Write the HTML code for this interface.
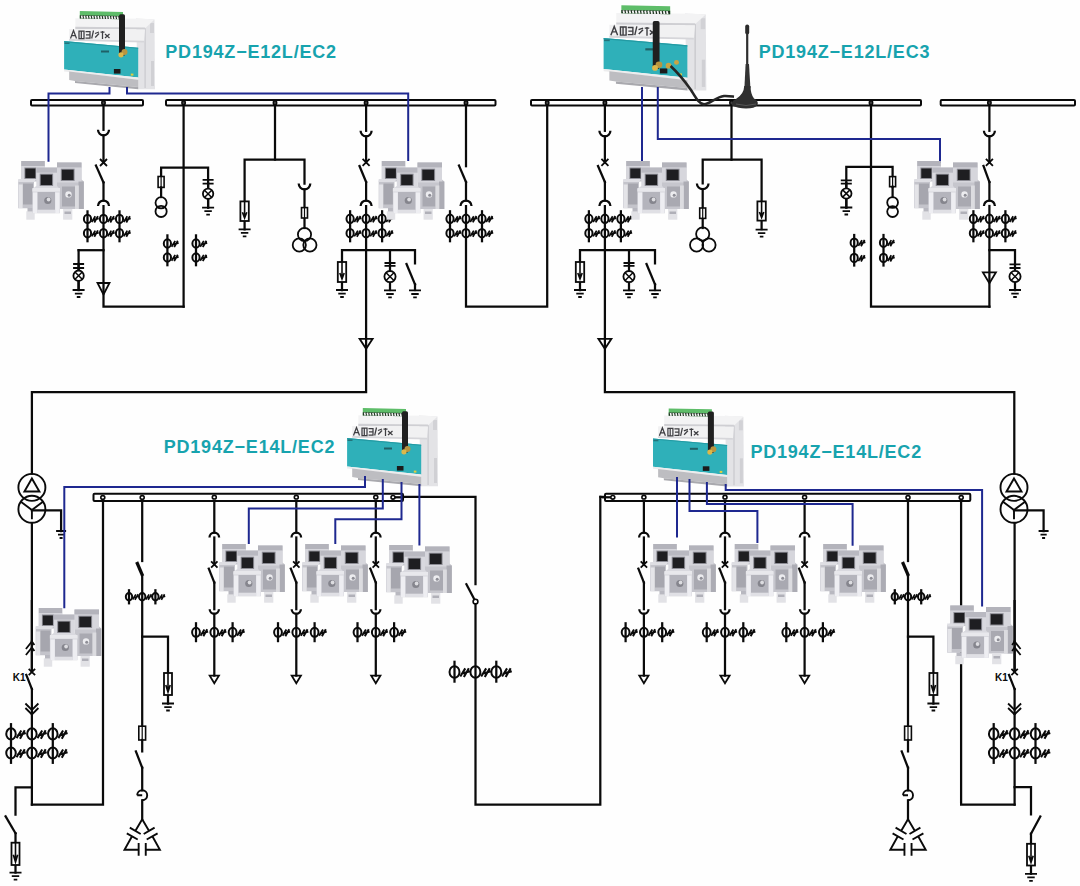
<!DOCTYPE html>
<html><head><meta charset="utf-8"><style>
html,body{margin:0;padding:0;background:#fff;width:1080px;height:886px;overflow:hidden}
svg{display:block}
</style></head><body>
<svg width="1080" height="886" viewBox="0 0 1080 886">
<rect width="1080" height="886" fill="#fefefe"/>
<rect x="31" y="100" width="112" height="5.5" rx="1" fill="#fff" stroke="#0a0a0a" stroke-width="2"/>
<rect x="166" y="100" width="329.5" height="5.5" rx="1" fill="#fff" stroke="#0a0a0a" stroke-width="2"/>
<rect x="531" y="100" width="390" height="5.5" rx="1" fill="#fff" stroke="#0a0a0a" stroke-width="2"/>
<rect x="940.7" y="100" width="134.29999999999995" height="5.5" rx="1" fill="#fff" stroke="#0a0a0a" stroke-width="2"/>
<polyline points="103.5,105.5 103.5,129.8" fill="none" stroke="#0a0a0a" stroke-width="2.25" stroke-linejoin="miter" stroke-linecap="square"/>
<path d="M98.0,129.8 A5.5,5.5 0 0 0 109.0,129.8" fill="none" stroke="#0a0a0a" stroke-width="2.25"/>
<polyline points="103.5,135.3 103.5,162.5" fill="none" stroke="#0a0a0a" stroke-width="2.25" stroke-linejoin="miter" stroke-linecap="square"/>
<path d="M100.0,159.0L107.0,166.0M100.0,166.0L107.0,159.0" stroke="#0a0a0a" stroke-width="1.8"/>
<polyline points="96.0,165.6 103.5,182.5" fill="none" stroke="#0a0a0a" stroke-width="2.25" stroke-linejoin="miter" stroke-linecap="square"/>
<polyline points="103.5,182.5 103.5,200.5" fill="none" stroke="#0a0a0a" stroke-width="2.25" stroke-linejoin="miter" stroke-linecap="square"/>
<path d="M98.0,206 A5.5,5.5 0 0 1 109.0,206" fill="none" stroke="#0a0a0a" stroke-width="2.25"/>
<polyline points="103.5,206.0 103.5,306.7 183.6,306.7" fill="none" stroke="#0a0a0a" stroke-width="2.25" stroke-linejoin="miter" stroke-linecap="square"/>
<ellipse cx="87.5" cy="218.9" rx="3.60" ry="4.20" fill="none" stroke="#0a0a0a" stroke-width="2.0"/>
<path d="M91.70,222.10L95.30,216.30M94.30,222.50L97.90,216.10M92.10,220.30L98.70,218.30" stroke="#0a0a0a" stroke-width="1.80"/>
<ellipse cx="87.5" cy="233.2" rx="3.60" ry="4.20" fill="none" stroke="#0a0a0a" stroke-width="2.0"/>
<path d="M91.70,236.40L95.30,230.60M94.30,236.80L97.90,230.40M92.10,234.60L98.70,232.60" stroke="#0a0a0a" stroke-width="1.80"/>
<polyline points="87.5,211.4 87.5,241.2" fill="none" stroke="#0a0a0a" stroke-width="2.25" stroke-linejoin="miter" stroke-linecap="square"/>
<ellipse cx="103.5" cy="218.9" rx="3.60" ry="4.20" fill="none" stroke="#0a0a0a" stroke-width="2.0"/>
<path d="M107.70,222.10L111.30,216.30M110.30,222.50L113.90,216.10M108.10,220.30L114.70,218.30" stroke="#0a0a0a" stroke-width="1.80"/>
<ellipse cx="103.5" cy="233.2" rx="3.60" ry="4.20" fill="none" stroke="#0a0a0a" stroke-width="2.0"/>
<path d="M107.70,236.40L111.30,230.60M110.30,236.80L113.90,230.40M108.10,234.60L114.70,232.60" stroke="#0a0a0a" stroke-width="1.80"/>
<ellipse cx="119.5" cy="218.9" rx="3.60" ry="4.20" fill="none" stroke="#0a0a0a" stroke-width="2.0"/>
<path d="M123.70,222.10L127.30,216.30M126.30,222.50L129.90,216.10M124.10,220.30L130.70,218.30" stroke="#0a0a0a" stroke-width="1.80"/>
<ellipse cx="119.5" cy="233.2" rx="3.60" ry="4.20" fill="none" stroke="#0a0a0a" stroke-width="2.0"/>
<path d="M123.70,236.40L127.30,230.60M126.30,236.80L129.90,230.40M124.10,234.60L130.70,232.60" stroke="#0a0a0a" stroke-width="1.80"/>
<polyline points="119.5,211.4 119.5,241.2" fill="none" stroke="#0a0a0a" stroke-width="2.25" stroke-linejoin="miter" stroke-linecap="square"/>
<polyline points="78.6,250.2 103.5,250.2" fill="none" stroke="#0a0a0a" stroke-width="2.25" stroke-linejoin="miter" stroke-linecap="square"/>
<polyline points="78.6,250.2 78.6,290.0" fill="none" stroke="#0a0a0a" stroke-width="2.25" stroke-linejoin="miter" stroke-linecap="square"/>
<polyline points="78.6,264.0 78.6,290.0" fill="none" stroke="#0a0a0a" stroke-width="2.25" stroke-linejoin="miter" stroke-linecap="square"/>
<path d="M73.1,264H84.1M73.1,268H84.1" stroke="#0a0a0a" stroke-width="1.8"/>
<circle cx="78.6" cy="275.7" r="5.2" fill="#fff" stroke="#0a0a0a" stroke-width="1.8"/>
<path d="M74.96,272.06L82.24,279.34M74.96,279.34L82.24,272.06" stroke="#0a0a0a" stroke-width="1.5"/>
<path d="M72.6,290H84.6M74.88,293.6H82.32M76.8,297H80.39999999999999" stroke="#0a0a0a" stroke-width="1.8"/>
<path d="M97.5,283H109.5L103.5,294.5Z" fill="none" stroke="#0a0a0a" stroke-width="1.8"/>
<ellipse cx="103.5" cy="102.8" rx="1.7" ry="2.1" fill="#444" stroke="#0a0a0a" stroke-width="1.5"/>
<polyline points="183.6,105.5 183.6,306.7" fill="none" stroke="#0a0a0a" stroke-width="2.25" stroke-linejoin="miter" stroke-linecap="square"/>
<ellipse cx="183.6" cy="102.8" rx="1.7" ry="2.1" fill="#444" stroke="#0a0a0a" stroke-width="1.5"/>
<polyline points="161.1,187.0 161.1,167.7 208.1,167.7 208.1,207.6" fill="none" stroke="#0a0a0a" stroke-width="2.25" stroke-linejoin="miter" stroke-linecap="square"/>
<rect x="158.1" y="176.5" width="6" height="10.900000000000006" fill="#fff" stroke="#0a0a0a" stroke-width="1.6"/>
<line x1="161.1" y1="176.5" x2="161.1" y2="187.4" stroke="#0a0a0a" stroke-width="1.2"/>
<polyline points="161.1,187.4 161.1,197.0" fill="none" stroke="#0a0a0a" stroke-width="2.25" stroke-linejoin="miter" stroke-linecap="square"/>
<circle cx="161.1" cy="202.8" r="5.6" fill="none" stroke="#0a0a0a" stroke-width="1.8"/>
<circle cx="161.1" cy="211.4" r="5.6" fill="none" stroke="#0a0a0a" stroke-width="1.8"/>
<polyline points="208.1,183.0 208.1,207.6" fill="none" stroke="#0a0a0a" stroke-width="2.25" stroke-linejoin="miter" stroke-linecap="square"/>
<path d="M202.6,179.8H213.6M202.6,183.6H213.6" stroke="#0a0a0a" stroke-width="1.8"/>
<circle cx="208.1" cy="193.8" r="5.2" fill="#fff" stroke="#0a0a0a" stroke-width="1.8"/>
<path d="M204.46,190.16000000000003L211.73999999999998,197.44M204.46,197.44L211.73999999999998,190.16000000000003" stroke="#0a0a0a" stroke-width="1.5"/>
<path d="M202.1,207.6H214.1M204.38,211.2H211.82M206.29999999999998,214.6H209.9" stroke="#0a0a0a" stroke-width="1.8"/>
<ellipse cx="167.4" cy="243.5" rx="3.60" ry="4.20" fill="none" stroke="#0a0a0a" stroke-width="2.0"/>
<path d="M171.60,246.70L175.20,240.90M174.20,247.10L177.80,240.70M172.00,244.90L178.60,242.90" stroke="#0a0a0a" stroke-width="1.80"/>
<ellipse cx="167.4" cy="257.5" rx="3.60" ry="4.20" fill="none" stroke="#0a0a0a" stroke-width="2.0"/>
<path d="M171.60,260.70L175.20,254.90M174.20,261.10L177.80,254.70M172.00,258.90L178.60,256.90" stroke="#0a0a0a" stroke-width="1.80"/>
<polyline points="167.4,235.4 167.4,265.2" fill="none" stroke="#0a0a0a" stroke-width="2.25" stroke-linejoin="miter" stroke-linecap="square"/>
<ellipse cx="196" cy="243.5" rx="3.60" ry="4.20" fill="none" stroke="#0a0a0a" stroke-width="2.0"/>
<path d="M200.20,246.70L203.80,240.90M202.80,247.10L206.40,240.70M200.60,244.90L207.20,242.90" stroke="#0a0a0a" stroke-width="1.80"/>
<ellipse cx="196" cy="257.5" rx="3.60" ry="4.20" fill="none" stroke="#0a0a0a" stroke-width="2.0"/>
<path d="M200.20,260.70L203.80,254.90M202.80,261.10L206.40,254.70M200.60,258.90L207.20,256.90" stroke="#0a0a0a" stroke-width="1.80"/>
<polyline points="196.0,235.4 196.0,265.2" fill="none" stroke="#0a0a0a" stroke-width="2.25" stroke-linejoin="miter" stroke-linecap="square"/>
<polyline points="275.0,105.5 275.0,159.6" fill="none" stroke="#0a0a0a" stroke-width="2.25" stroke-linejoin="miter" stroke-linecap="square"/>
<ellipse cx="275" cy="102.8" rx="1.7" ry="2.1" fill="#444" stroke="#0a0a0a" stroke-width="1.5"/>
<polyline points="244.6,229.3 244.6,159.6 304.5,159.6 304.5,183.6" fill="none" stroke="#0a0a0a" stroke-width="2.25" stroke-linejoin="miter" stroke-linecap="square"/>
<rect x="240.4" y="201.4" width="8.4" height="19.599999999999994" fill="#fff" stroke="#0a0a0a" stroke-width="1.8"/>
<path d="M244.6,201.4V218M242.4,212.2L244.6,218L246.79999999999998,212.2" fill="none" stroke="#0a0a0a" stroke-width="1.6"/>
<path d="M238.6,229.3H250.6M240.88,232.9H248.32M242.79999999999998,236.3H246.4" stroke="#0a0a0a" stroke-width="1.8"/>
<path d="M298.7,183.6 A5.8,5.8 0 0 0 310.3,183.6" fill="none" stroke="#0a0a0a" stroke-width="2.25"/>
<polyline points="304.5,189.4 304.5,228.0" fill="none" stroke="#0a0a0a" stroke-width="2.25" stroke-linejoin="miter" stroke-linecap="square"/>
<rect x="301.5" y="207.6" width="6" height="10.400000000000006" fill="#fff" stroke="#0a0a0a" stroke-width="1.6"/>
<line x1="304.5" y1="207.6" x2="304.5" y2="218" stroke="#0a0a0a" stroke-width="1.2"/>
<circle cx="304.5" cy="234.5" r="6.6" fill="none" stroke="#0a0a0a" stroke-width="1.8"/>
<circle cx="299.3" cy="245" r="6.6" fill="none" stroke="#0a0a0a" stroke-width="1.8"/>
<circle cx="309.9" cy="245" r="6.6" fill="none" stroke="#0a0a0a" stroke-width="1.8"/>
<polyline points="366.1,105.5 366.1,130.8" fill="none" stroke="#0a0a0a" stroke-width="2.25" stroke-linejoin="miter" stroke-linecap="square"/>
<path d="M360.6,130.8 A5.5,5.5 0 0 0 371.6,130.8" fill="none" stroke="#0a0a0a" stroke-width="2.25"/>
<ellipse cx="366.1" cy="102.8" rx="1.7" ry="2.1" fill="#444" stroke="#0a0a0a" stroke-width="1.5"/>
<polyline points="366.1,136.3 366.1,162.4" fill="none" stroke="#0a0a0a" stroke-width="2.25" stroke-linejoin="miter" stroke-linecap="square"/>
<path d="M362.6,158.9L369.6,165.9M362.6,165.9L369.6,158.9" stroke="#0a0a0a" stroke-width="1.8"/>
<polyline points="359.5,166.0 366.1,182.0" fill="none" stroke="#0a0a0a" stroke-width="2.25" stroke-linejoin="miter" stroke-linecap="square"/>
<polyline points="366.1,182.0 366.1,200.5" fill="none" stroke="#0a0a0a" stroke-width="2.25" stroke-linejoin="miter" stroke-linecap="square"/>
<path d="M360.6,206 A5.5,5.5 0 0 1 371.6,206" fill="none" stroke="#0a0a0a" stroke-width="2.25"/>
<polyline points="366.1,206.0 366.1,392.0 31.9,392.0 31.9,473.5" fill="none" stroke="#0a0a0a" stroke-width="2.25" stroke-linejoin="miter" stroke-linecap="square"/>
<ellipse cx="350.1" cy="218.8" rx="3.60" ry="4.20" fill="none" stroke="#0a0a0a" stroke-width="2.0"/>
<path d="M354.30,222.00L357.90,216.20M356.90,222.40L360.50,216.00M354.70,220.20L361.30,218.20" stroke="#0a0a0a" stroke-width="1.80"/>
<ellipse cx="350.1" cy="233.2" rx="3.60" ry="4.20" fill="none" stroke="#0a0a0a" stroke-width="2.0"/>
<path d="M354.30,236.40L357.90,230.60M356.90,236.80L360.50,230.40M354.70,234.60L361.30,232.60" stroke="#0a0a0a" stroke-width="1.80"/>
<polyline points="350.1,211.3 350.1,241.2" fill="none" stroke="#0a0a0a" stroke-width="2.25" stroke-linejoin="miter" stroke-linecap="square"/>
<ellipse cx="366.1" cy="218.8" rx="3.60" ry="4.20" fill="none" stroke="#0a0a0a" stroke-width="2.0"/>
<path d="M370.30,222.00L373.90,216.20M372.90,222.40L376.50,216.00M370.70,220.20L377.30,218.20" stroke="#0a0a0a" stroke-width="1.80"/>
<ellipse cx="366.1" cy="233.2" rx="3.60" ry="4.20" fill="none" stroke="#0a0a0a" stroke-width="2.0"/>
<path d="M370.30,236.40L373.90,230.60M372.90,236.80L376.50,230.40M370.70,234.60L377.30,232.60" stroke="#0a0a0a" stroke-width="1.80"/>
<ellipse cx="382.1" cy="218.8" rx="3.60" ry="4.20" fill="none" stroke="#0a0a0a" stroke-width="2.0"/>
<path d="M386.30,222.00L389.90,216.20M388.90,222.40L392.50,216.00M386.70,220.20L393.30,218.20" stroke="#0a0a0a" stroke-width="1.80"/>
<ellipse cx="382.1" cy="233.2" rx="3.60" ry="4.20" fill="none" stroke="#0a0a0a" stroke-width="2.0"/>
<path d="M386.30,236.40L389.90,230.60M388.90,236.80L392.50,230.40M386.70,234.60L393.30,232.60" stroke="#0a0a0a" stroke-width="1.80"/>
<polyline points="382.1,211.3 382.1,241.2" fill="none" stroke="#0a0a0a" stroke-width="2.25" stroke-linejoin="miter" stroke-linecap="square"/>
<polyline points="342.0,290.0 342.0,250.2 415.0,250.2 415.0,263.4" fill="none" stroke="#0a0a0a" stroke-width="2.25" stroke-linejoin="miter" stroke-linecap="square"/>
<rect x="337.8" y="262" width="8.4" height="20" fill="#fff" stroke="#0a0a0a" stroke-width="1.8"/>
<path d="M342,262V279M339.8,273.0L342,279L344.2,273.0" fill="none" stroke="#0a0a0a" stroke-width="1.6"/>
<path d="M336,290H348M338.28,293.6H345.72M340.2,297H343.8" stroke="#0a0a0a" stroke-width="1.8"/>
<polyline points="390.0,265.0 390.0,290.0" fill="none" stroke="#0a0a0a" stroke-width="2.25" stroke-linejoin="miter" stroke-linecap="square"/>
<path d="M384.5,263H395.5M384.5,265.8H395.5" stroke="#0a0a0a" stroke-width="1.8"/>
<circle cx="390" cy="276.6" r="5.6" fill="#fff" stroke="#0a0a0a" stroke-width="1.8"/>
<path d="M386.08,272.68L393.92,280.52000000000004M386.08,280.52000000000004L393.92,272.68" stroke="#0a0a0a" stroke-width="1.5"/>
<path d="M384,290.4H396M386.28,294.0H393.72M388.2,297.4H391.8" stroke="#0a0a0a" stroke-width="1.8"/>
<polyline points="390.0,250.2 390.0,262.0" fill="none" stroke="#0a0a0a" stroke-width="2.25" stroke-linejoin="miter" stroke-linecap="square"/>
<polyline points="406.5,264.0 415.0,284.3" fill="none" stroke="#0a0a0a" stroke-width="2.25" stroke-linejoin="miter" stroke-linecap="square"/>
<polyline points="415.0,284.3 415.0,290.0" fill="none" stroke="#0a0a0a" stroke-width="2.25" stroke-linejoin="miter" stroke-linecap="square"/>
<path d="M409,290.4H421M411.28,294.0H418.72M413.2,297.4H416.8" stroke="#0a0a0a" stroke-width="1.8"/>
<path d="M359.6,338.8H372.6L366.1,348.8Z" fill="none" stroke="#0a0a0a" stroke-width="1.8"/>
<polyline points="466.0,105.5 466.0,166.2" fill="none" stroke="#0a0a0a" stroke-width="2.25" stroke-linejoin="miter" stroke-linecap="square"/>
<ellipse cx="466" cy="102.8" rx="1.7" ry="2.1" fill="#444" stroke="#0a0a0a" stroke-width="1.5"/>
<polyline points="459.0,165.6 466.0,182.0" fill="none" stroke="#0a0a0a" stroke-width="2.25" stroke-linejoin="miter" stroke-linecap="square"/>
<polyline points="466.0,182.0 466.0,200.5" fill="none" stroke="#0a0a0a" stroke-width="2.25" stroke-linejoin="miter" stroke-linecap="square"/>
<path d="M460.5,206 A5.5,5.5 0 0 1 471.5,206" fill="none" stroke="#0a0a0a" stroke-width="2.25"/>
<polyline points="466.0,206.0 466.0,306.7 547.2,306.7 547.2,105.5" fill="none" stroke="#0a0a0a" stroke-width="2.25" stroke-linejoin="miter" stroke-linecap="square"/>
<ellipse cx="450" cy="218.8" rx="3.60" ry="4.20" fill="none" stroke="#0a0a0a" stroke-width="2.0"/>
<path d="M454.20,222.00L457.80,216.20M456.80,222.40L460.40,216.00M454.60,220.20L461.20,218.20" stroke="#0a0a0a" stroke-width="1.80"/>
<ellipse cx="450" cy="233.2" rx="3.60" ry="4.20" fill="none" stroke="#0a0a0a" stroke-width="2.0"/>
<path d="M454.20,236.40L457.80,230.60M456.80,236.80L460.40,230.40M454.60,234.60L461.20,232.60" stroke="#0a0a0a" stroke-width="1.80"/>
<polyline points="450.0,211.3 450.0,241.2" fill="none" stroke="#0a0a0a" stroke-width="2.25" stroke-linejoin="miter" stroke-linecap="square"/>
<ellipse cx="466" cy="218.8" rx="3.60" ry="4.20" fill="none" stroke="#0a0a0a" stroke-width="2.0"/>
<path d="M470.20,222.00L473.80,216.20M472.80,222.40L476.40,216.00M470.60,220.20L477.20,218.20" stroke="#0a0a0a" stroke-width="1.80"/>
<ellipse cx="466" cy="233.2" rx="3.60" ry="4.20" fill="none" stroke="#0a0a0a" stroke-width="2.0"/>
<path d="M470.20,236.40L473.80,230.60M472.80,236.80L476.40,230.40M470.60,234.60L477.20,232.60" stroke="#0a0a0a" stroke-width="1.80"/>
<ellipse cx="482" cy="218.8" rx="3.60" ry="4.20" fill="none" stroke="#0a0a0a" stroke-width="2.0"/>
<path d="M486.20,222.00L489.80,216.20M488.80,222.40L492.40,216.00M486.60,220.20L493.20,218.20" stroke="#0a0a0a" stroke-width="1.80"/>
<ellipse cx="482" cy="233.2" rx="3.60" ry="4.20" fill="none" stroke="#0a0a0a" stroke-width="2.0"/>
<path d="M486.20,236.40L489.80,230.60M488.80,236.80L492.40,230.40M486.60,234.60L493.20,232.60" stroke="#0a0a0a" stroke-width="1.80"/>
<polyline points="482.0,211.3 482.0,241.2" fill="none" stroke="#0a0a0a" stroke-width="2.25" stroke-linejoin="miter" stroke-linecap="square"/>
<ellipse cx="547.2" cy="102.8" rx="1.7" ry="2.1" fill="#444" stroke="#0a0a0a" stroke-width="1.5"/>
<polyline points="604.9,105.5 604.9,130.8" fill="none" stroke="#0a0a0a" stroke-width="2.25" stroke-linejoin="miter" stroke-linecap="square"/>
<path d="M599.4,130.8 A5.5,5.5 0 0 0 610.4,130.8" fill="none" stroke="#0a0a0a" stroke-width="2.25"/>
<ellipse cx="604.9" cy="102.8" rx="1.7" ry="2.1" fill="#444" stroke="#0a0a0a" stroke-width="1.5"/>
<polyline points="604.9,136.3 604.9,162.4" fill="none" stroke="#0a0a0a" stroke-width="2.25" stroke-linejoin="miter" stroke-linecap="square"/>
<path d="M601.4,158.9L608.4,165.9M601.4,165.9L608.4,158.9" stroke="#0a0a0a" stroke-width="1.8"/>
<polyline points="598.0,166.0 604.9,182.0" fill="none" stroke="#0a0a0a" stroke-width="2.25" stroke-linejoin="miter" stroke-linecap="square"/>
<polyline points="604.9,182.0 604.9,200.5" fill="none" stroke="#0a0a0a" stroke-width="2.25" stroke-linejoin="miter" stroke-linecap="square"/>
<path d="M599.4,206 A5.5,5.5 0 0 1 610.4,206" fill="none" stroke="#0a0a0a" stroke-width="2.25"/>
<polyline points="604.9,206.0 604.9,392.0 1014.3,392.0 1014.3,473.5" fill="none" stroke="#0a0a0a" stroke-width="2.25" stroke-linejoin="miter" stroke-linecap="square"/>
<ellipse cx="588.9" cy="218.8" rx="3.60" ry="4.20" fill="none" stroke="#0a0a0a" stroke-width="2.0"/>
<path d="M593.10,222.00L596.70,216.20M595.70,222.40L599.30,216.00M593.50,220.20L600.10,218.20" stroke="#0a0a0a" stroke-width="1.80"/>
<ellipse cx="588.9" cy="233.2" rx="3.60" ry="4.20" fill="none" stroke="#0a0a0a" stroke-width="2.0"/>
<path d="M593.10,236.40L596.70,230.60M595.70,236.80L599.30,230.40M593.50,234.60L600.10,232.60" stroke="#0a0a0a" stroke-width="1.80"/>
<polyline points="588.9,211.3 588.9,241.2" fill="none" stroke="#0a0a0a" stroke-width="2.25" stroke-linejoin="miter" stroke-linecap="square"/>
<ellipse cx="604.9" cy="218.8" rx="3.60" ry="4.20" fill="none" stroke="#0a0a0a" stroke-width="2.0"/>
<path d="M609.10,222.00L612.70,216.20M611.70,222.40L615.30,216.00M609.50,220.20L616.10,218.20" stroke="#0a0a0a" stroke-width="1.80"/>
<ellipse cx="604.9" cy="233.2" rx="3.60" ry="4.20" fill="none" stroke="#0a0a0a" stroke-width="2.0"/>
<path d="M609.10,236.40L612.70,230.60M611.70,236.80L615.30,230.40M609.50,234.60L616.10,232.60" stroke="#0a0a0a" stroke-width="1.80"/>
<ellipse cx="620.9" cy="218.8" rx="3.60" ry="4.20" fill="none" stroke="#0a0a0a" stroke-width="2.0"/>
<path d="M625.10,222.00L628.70,216.20M627.70,222.40L631.30,216.00M625.50,220.20L632.10,218.20" stroke="#0a0a0a" stroke-width="1.80"/>
<ellipse cx="620.9" cy="233.2" rx="3.60" ry="4.20" fill="none" stroke="#0a0a0a" stroke-width="2.0"/>
<path d="M625.10,236.40L628.70,230.60M627.70,236.80L631.30,230.40M625.50,234.60L632.10,232.60" stroke="#0a0a0a" stroke-width="1.80"/>
<polyline points="620.9,211.3 620.9,241.2" fill="none" stroke="#0a0a0a" stroke-width="2.25" stroke-linejoin="miter" stroke-linecap="square"/>
<polyline points="580.0,290.0 580.0,250.2 655.0,250.2 655.0,263.4" fill="none" stroke="#0a0a0a" stroke-width="2.25" stroke-linejoin="miter" stroke-linecap="square"/>
<rect x="575.8" y="262" width="8.4" height="20" fill="#fff" stroke="#0a0a0a" stroke-width="1.8"/>
<path d="M580,262V279M577.8,273.0L580,279L582.2,273.0" fill="none" stroke="#0a0a0a" stroke-width="1.6"/>
<path d="M574,290H586M576.28,293.6H583.72M578.2,297H581.8" stroke="#0a0a0a" stroke-width="1.8"/>
<polyline points="629.0,265.0 629.0,290.0" fill="none" stroke="#0a0a0a" stroke-width="2.25" stroke-linejoin="miter" stroke-linecap="square"/>
<path d="M623.5,263H634.5M623.5,265.8H634.5" stroke="#0a0a0a" stroke-width="1.8"/>
<circle cx="629" cy="276.6" r="5.6" fill="#fff" stroke="#0a0a0a" stroke-width="1.8"/>
<path d="M625.08,272.68L632.92,280.52000000000004M625.08,280.52000000000004L632.92,272.68" stroke="#0a0a0a" stroke-width="1.5"/>
<path d="M623,290.4H635M625.28,294.0H632.72M627.2,297.4H630.8" stroke="#0a0a0a" stroke-width="1.8"/>
<polyline points="629.0,250.2 629.0,262.0" fill="none" stroke="#0a0a0a" stroke-width="2.25" stroke-linejoin="miter" stroke-linecap="square"/>
<polyline points="646.5,264.0 655.0,284.3" fill="none" stroke="#0a0a0a" stroke-width="2.25" stroke-linejoin="miter" stroke-linecap="square"/>
<polyline points="655.0,284.3 655.0,290.0" fill="none" stroke="#0a0a0a" stroke-width="2.25" stroke-linejoin="miter" stroke-linecap="square"/>
<path d="M649,290.4H661M651.28,294.0H658.72M653.2,297.4H656.8" stroke="#0a0a0a" stroke-width="1.8"/>
<path d="M598.4,338.8H611.4L604.9,348.8Z" fill="none" stroke="#0a0a0a" stroke-width="1.8"/>
<polyline points="731.5,105.5 731.5,159.7" fill="none" stroke="#0a0a0a" stroke-width="2.25" stroke-linejoin="miter" stroke-linecap="square"/>
<ellipse cx="731.5" cy="102.8" rx="1.7" ry="2.1" fill="#444" stroke="#0a0a0a" stroke-width="1.5"/>
<polyline points="761.6,229.0 761.6,159.7 702.7,159.7 702.7,183.4" fill="none" stroke="#0a0a0a" stroke-width="2.25" stroke-linejoin="miter" stroke-linecap="square"/>
<rect x="757.4" y="201.4" width="8.4" height="19.19999999999999" fill="#fff" stroke="#0a0a0a" stroke-width="1.8"/>
<path d="M761.6,201.4V217.6M759.4,212.0L761.6,217.6L763.8000000000001,212.0" fill="none" stroke="#0a0a0a" stroke-width="1.6"/>
<path d="M755.6,229.6H767.6M757.88,233.2H765.32M759.8000000000001,236.6H763.4" stroke="#0a0a0a" stroke-width="1.8"/>
<path d="M696.9000000000001,183.4 A5.8,5.8 0 0 0 708.5,183.4" fill="none" stroke="#0a0a0a" stroke-width="2.25"/>
<polyline points="702.7,189.2 702.7,228.0" fill="none" stroke="#0a0a0a" stroke-width="2.25" stroke-linejoin="miter" stroke-linecap="square"/>
<rect x="699.7" y="208" width="6" height="10.400000000000006" fill="#fff" stroke="#0a0a0a" stroke-width="1.6"/>
<line x1="702.7" y1="208" x2="702.7" y2="218.4" stroke="#0a0a0a" stroke-width="1.2"/>
<circle cx="702.7" cy="234" r="6.6" fill="none" stroke="#0a0a0a" stroke-width="1.8"/>
<circle cx="696.6" cy="245" r="6.6" fill="none" stroke="#0a0a0a" stroke-width="1.8"/>
<circle cx="709" cy="245" r="6.6" fill="none" stroke="#0a0a0a" stroke-width="1.8"/>
<polyline points="871.0,105.5 871.0,306.7 989.4,306.7" fill="none" stroke="#0a0a0a" stroke-width="2.25" stroke-linejoin="miter" stroke-linecap="square"/>
<ellipse cx="871" cy="102.8" rx="1.7" ry="2.1" fill="#444" stroke="#0a0a0a" stroke-width="1.5"/>
<polyline points="846.3,207.5 846.3,166.9 892.6,166.9 892.6,187.0" fill="none" stroke="#0a0a0a" stroke-width="2.25" stroke-linejoin="miter" stroke-linecap="square"/>
<polyline points="846.3,183.0 846.3,207.5" fill="none" stroke="#0a0a0a" stroke-width="2.25" stroke-linejoin="miter" stroke-linecap="square"/>
<path d="M840.8,180.4H851.8M840.8,183.6H851.8" stroke="#0a0a0a" stroke-width="1.8"/>
<circle cx="846.3" cy="193.5" r="5.2" fill="#fff" stroke="#0a0a0a" stroke-width="1.8"/>
<path d="M842.66,189.86L849.9399999999999,197.14M842.66,197.14L849.9399999999999,189.86" stroke="#0a0a0a" stroke-width="1.5"/>
<path d="M840.3,207.5H852.3M842.5799999999999,211.1H850.02M844.5,214.5H848.0999999999999" stroke="#0a0a0a" stroke-width="1.8"/>
<rect x="889.6" y="176.6" width="6" height="10.099999999999994" fill="#fff" stroke="#0a0a0a" stroke-width="1.6"/>
<line x1="892.6" y1="176.6" x2="892.6" y2="186.7" stroke="#0a0a0a" stroke-width="1.2"/>
<polyline points="892.6,186.7 892.6,197.0" fill="none" stroke="#0a0a0a" stroke-width="2.25" stroke-linejoin="miter" stroke-linecap="square"/>
<circle cx="892.6" cy="202.5" r="5.4" fill="none" stroke="#0a0a0a" stroke-width="1.8"/>
<circle cx="892.6" cy="211.6" r="5.4" fill="none" stroke="#0a0a0a" stroke-width="1.8"/>
<ellipse cx="854.2" cy="242.7" rx="3.60" ry="4.20" fill="none" stroke="#0a0a0a" stroke-width="2.0"/>
<path d="M858.40,245.90L862.00,240.10M861.00,246.30L864.60,239.90M858.80,244.10L865.40,242.10" stroke="#0a0a0a" stroke-width="1.80"/>
<ellipse cx="854.2" cy="257.9" rx="3.60" ry="4.20" fill="none" stroke="#0a0a0a" stroke-width="2.0"/>
<path d="M858.40,261.10L862.00,255.30M861.00,261.50L864.60,255.10M858.80,259.30L865.40,257.30" stroke="#0a0a0a" stroke-width="1.80"/>
<polyline points="854.2,235.0 854.2,265.5" fill="none" stroke="#0a0a0a" stroke-width="2.25" stroke-linejoin="miter" stroke-linecap="square"/>
<ellipse cx="883.5" cy="242.7" rx="3.60" ry="4.20" fill="none" stroke="#0a0a0a" stroke-width="2.0"/>
<path d="M887.70,245.90L891.30,240.10M890.30,246.30L893.90,239.90M888.10,244.10L894.70,242.10" stroke="#0a0a0a" stroke-width="1.80"/>
<ellipse cx="883.5" cy="257.9" rx="3.60" ry="4.20" fill="none" stroke="#0a0a0a" stroke-width="2.0"/>
<path d="M887.70,261.10L891.30,255.30M890.30,261.50L893.90,255.10M888.10,259.30L894.70,257.30" stroke="#0a0a0a" stroke-width="1.80"/>
<polyline points="883.5,235.0 883.5,265.5" fill="none" stroke="#0a0a0a" stroke-width="2.25" stroke-linejoin="miter" stroke-linecap="square"/>
<polyline points="989.4,105.5 989.4,130.8" fill="none" stroke="#0a0a0a" stroke-width="2.25" stroke-linejoin="miter" stroke-linecap="square"/>
<path d="M983.9,130.8 A5.5,5.5 0 0 0 994.9,130.8" fill="none" stroke="#0a0a0a" stroke-width="2.25"/>
<ellipse cx="989.4" cy="102.8" rx="1.7" ry="2.1" fill="#444" stroke="#0a0a0a" stroke-width="1.5"/>
<polyline points="989.4,136.3 989.4,162.4" fill="none" stroke="#0a0a0a" stroke-width="2.25" stroke-linejoin="miter" stroke-linecap="square"/>
<path d="M985.9,158.9L992.9,165.9M985.9,165.9L992.9,158.9" stroke="#0a0a0a" stroke-width="1.8"/>
<polyline points="983.5,166.0 989.4,182.0" fill="none" stroke="#0a0a0a" stroke-width="2.25" stroke-linejoin="miter" stroke-linecap="square"/>
<polyline points="989.4,182.0 989.4,200.5" fill="none" stroke="#0a0a0a" stroke-width="2.25" stroke-linejoin="miter" stroke-linecap="square"/>
<path d="M983.9,206 A5.5,5.5 0 0 1 994.9,206" fill="none" stroke="#0a0a0a" stroke-width="2.25"/>
<polyline points="989.4,206.0 989.4,306.7" fill="none" stroke="#0a0a0a" stroke-width="2.25" stroke-linejoin="miter" stroke-linecap="square"/>
<ellipse cx="973.4" cy="218.8" rx="3.60" ry="4.20" fill="none" stroke="#0a0a0a" stroke-width="2.0"/>
<path d="M977.60,222.00L981.20,216.20M980.20,222.40L983.80,216.00M978.00,220.20L984.60,218.20" stroke="#0a0a0a" stroke-width="1.80"/>
<ellipse cx="973.4" cy="233.2" rx="3.60" ry="4.20" fill="none" stroke="#0a0a0a" stroke-width="2.0"/>
<path d="M977.60,236.40L981.20,230.60M980.20,236.80L983.80,230.40M978.00,234.60L984.60,232.60" stroke="#0a0a0a" stroke-width="1.80"/>
<polyline points="973.4,211.3 973.4,241.2" fill="none" stroke="#0a0a0a" stroke-width="2.25" stroke-linejoin="miter" stroke-linecap="square"/>
<ellipse cx="989.4" cy="218.8" rx="3.60" ry="4.20" fill="none" stroke="#0a0a0a" stroke-width="2.0"/>
<path d="M993.60,222.00L997.20,216.20M996.20,222.40L999.80,216.00M994.00,220.20L1000.60,218.20" stroke="#0a0a0a" stroke-width="1.80"/>
<ellipse cx="989.4" cy="233.2" rx="3.60" ry="4.20" fill="none" stroke="#0a0a0a" stroke-width="2.0"/>
<path d="M993.60,236.40L997.20,230.60M996.20,236.80L999.80,230.40M994.00,234.60L1000.60,232.60" stroke="#0a0a0a" stroke-width="1.80"/>
<ellipse cx="1005.4" cy="218.8" rx="3.60" ry="4.20" fill="none" stroke="#0a0a0a" stroke-width="2.0"/>
<path d="M1009.60,222.00L1013.20,216.20M1012.20,222.40L1015.80,216.00M1010.00,220.20L1016.60,218.20" stroke="#0a0a0a" stroke-width="1.80"/>
<ellipse cx="1005.4" cy="233.2" rx="3.60" ry="4.20" fill="none" stroke="#0a0a0a" stroke-width="2.0"/>
<path d="M1009.60,236.40L1013.20,230.60M1012.20,236.80L1015.80,230.40M1010.00,234.60L1016.60,232.60" stroke="#0a0a0a" stroke-width="1.80"/>
<polyline points="1005.4,211.3 1005.4,241.2" fill="none" stroke="#0a0a0a" stroke-width="2.25" stroke-linejoin="miter" stroke-linecap="square"/>
<polyline points="989.4,250.2 1015.0,250.2 1015.0,290.0" fill="none" stroke="#0a0a0a" stroke-width="2.25" stroke-linejoin="miter" stroke-linecap="square"/>
<path d="M1009.5,264.3H1020.5M1009.5,268H1020.5" stroke="#0a0a0a" stroke-width="1.8"/>
<circle cx="1015" cy="276.5" r="5.6" fill="#fff" stroke="#0a0a0a" stroke-width="1.8"/>
<path d="M1011.08,272.58L1018.92,280.42M1011.08,280.42L1018.92,272.58" stroke="#0a0a0a" stroke-width="1.5"/>
<path d="M1009,290H1021M1011.28,293.6H1018.72M1013.2,297H1016.8" stroke="#0a0a0a" stroke-width="1.8"/>
<path d="M982.9,272.4H995.9L989.4,283.3Z" fill="none" stroke="#0a0a0a" stroke-width="1.8"/>
<g transform="translate(64,11) scale(1.0,1.0)"><polygon points="72,7.5 90.5,8.5 91,78.3 74,78.3" fill="#e3e3e6"/><rect x="80.5" y="10" width="1.2" height="67" fill="#c9c9cd"/><rect x="86" y="12" width="4" height="10" fill="#d2d2d6"/><rect x="87" y="50" width="3" height="25" fill="#d0d0d4"/><polygon points="11.3,7.2 80,7.8 90.5,8.5 81,17.5 11.3,17" fill="#f3f3f4"/><polygon points="11.3,15.8 81,16.5 81,18.5 11.3,18" fill="#cfcfd3"/><polygon points="5.2,18 81,18.5 80,31 5.2,29.6" fill="#f1f1f2"/><polygon points="5.2,28 80,29.8 80,31.5 5.2,29.8" fill="#d6d6da"/><path d="M6.5,27.5L9.5,19.5L12.5,27.5M7.2,24.5h4.6M15,20h5v7.5h-5zM17.3,20v7.5M21.5,20.5h4.5v6.5h-4.5M22,23.8h3.5M29.5,19.5l-1.8,8M31,22.5l4,-1.5M31.2,26.5l3.8,-4M36.5,21h4M38.5,20v8M41,23l4.5,4M41,27l4.5,-4" fill="none" stroke="#202024" stroke-width="1.25" opacity="0.85"/><polygon points="15.8,0.1 59,1 59,8.2 15.8,7.4" fill="#5ebd69"/><polygon points="15.8,4.3 59,5 59,8.2 15.8,7.4" fill="#1f3322"/><path d="M17.60,4.70l0.6,2.8M20.35,4.75l0.6,2.8M23.10,4.80l0.6,2.8M25.85,4.85l0.6,2.8M28.60,4.90l0.6,2.8M31.35,4.95l0.6,2.8M34.10,5.00l0.6,2.8M36.85,5.05l0.6,2.8M39.60,5.10l0.6,2.8M42.35,5.15l0.6,2.8M45.10,5.20l0.6,2.8M47.85,5.25l0.6,2.8M50.60,5.30l0.6,2.8M53.35,5.35l0.6,2.8M56.10,5.40l0.6,2.8" stroke="#f4f4f4" stroke-width="1.6"/><polygon points="0.1,30.1 74.2,36.7 74.2,66.6 0.1,58.5" fill="#2fb0b9"/><polygon points="0.1,30.1 74.2,36.7 74.2,37.8 0.1,31.2" fill="#239aa3"/><rect x="37" y="39.5" width="8" height="2" fill="#1c4d52" opacity="0.8"/><rect x="0.5" y="31.5" width="5" height="1.5" fill="#1c4d52" opacity="0.6"/><polygon points="0.1,58.5 74.2,66.6 74.2,68.8 0.1,60.5" fill="#ededee"/><polygon points="5.2,60.6 74.2,68.8 74.2,76 11,70 5.2,69" fill="#bdbdc1"/><polygon points="11,70 74.2,76 74.2,78.3 11,72" fill="#a9a9ae"/><rect x="49.9" y="58" width="6.6" height="4.6" fill="#1b1b1b"/><rect x="66.8" y="62.6" width="2.6" height="2" fill="#e4cf3c"/><rect x="55" y="3.2" width="6" height="41.599999999999994" rx="1.5" fill="#202020"/><circle cx="60.5" cy="41.0" r="3" fill="#b89540"/><circle cx="57" cy="43.8" r="2.6" fill="#dcb84a"/></g>
<g transform="translate(603.5,5.2) scale(1.13,1.09)"><polygon points="72,7.5 90.5,8.5 91,78.3 74,78.3" fill="#e3e3e6"/><rect x="80.5" y="10" width="1.2" height="67" fill="#c9c9cd"/><rect x="86" y="12" width="4" height="10" fill="#d2d2d6"/><rect x="87" y="50" width="3" height="25" fill="#d0d0d4"/><polygon points="11.3,7.2 80,7.8 90.5,8.5 81,17.5 11.3,17" fill="#f3f3f4"/><polygon points="11.3,15.8 81,16.5 81,18.5 11.3,18" fill="#cfcfd3"/><polygon points="5.2,18 81,18.5 80,31 5.2,29.6" fill="#f1f1f2"/><polygon points="5.2,28 80,29.8 80,31.5 5.2,29.8" fill="#d6d6da"/><path d="M6.5,27.5L9.5,19.5L12.5,27.5M7.2,24.5h4.6M15,20h5v7.5h-5zM17.3,20v7.5M21.5,20.5h4.5v6.5h-4.5M22,23.8h3.5M29.5,19.5l-1.8,8M31,22.5l4,-1.5M31.2,26.5l3.8,-4M36.5,21h4M38.5,20v8M41,23l4.5,4M41,27l4.5,-4" fill="none" stroke="#202024" stroke-width="1.25" opacity="0.85"/><polygon points="15.8,0.1 59,1 59,8.2 15.8,7.4" fill="#5ebd69"/><polygon points="15.8,4.3 59,5 59,8.2 15.8,7.4" fill="#1f3322"/><path d="M17.60,4.70l0.6,2.8M20.35,4.75l0.6,2.8M23.10,4.80l0.6,2.8M25.85,4.85l0.6,2.8M28.60,4.90l0.6,2.8M31.35,4.95l0.6,2.8M34.10,5.00l0.6,2.8M36.85,5.05l0.6,2.8M39.60,5.10l0.6,2.8M42.35,5.15l0.6,2.8M45.10,5.20l0.6,2.8M47.85,5.25l0.6,2.8M50.60,5.30l0.6,2.8M53.35,5.35l0.6,2.8M56.10,5.40l0.6,2.8" stroke="#f4f4f4" stroke-width="1.6"/><polygon points="0.1,30.1 74.2,36.7 74.2,66.6 0.1,58.5" fill="#2fb0b9"/><polygon points="0.1,30.1 74.2,36.7 74.2,37.8 0.1,31.2" fill="#239aa3"/><rect x="37" y="39.5" width="8" height="2" fill="#1c4d52" opacity="0.8"/><rect x="0.5" y="31.5" width="5" height="1.5" fill="#1c4d52" opacity="0.6"/><polygon points="0.1,58.5 74.2,66.6 74.2,68.8 0.1,60.5" fill="#ededee"/><polygon points="5.2,60.6 74.2,68.8 74.2,76 11,70 5.2,69" fill="#bdbdc1"/><polygon points="11,70 74.2,76 74.2,78.3 11,72" fill="#a9a9ae"/><rect x="49.9" y="58" width="6.6" height="4.6" fill="#1b1b1b"/><rect x="66.8" y="62.6" width="2.6" height="2" fill="#e4cf3c"/><rect x="43.6" y="14.5" width="6" height="44.0" rx="1.5" fill="#202020"/><circle cx="49.1" cy="54.7" r="3" fill="#b89540"/><circle cx="45.6" cy="57.5" r="2.6" fill="#dcb84a"/><circle cx="57.6" cy="55.5" r="2.6" fill="#c9a444"/><circle cx="64.6" cy="52.5" r="2.2" fill="#c9a444"/></g>
<path d="M670.6,66 C677,72 684,80 691,90 C696,98 699,104 704,104.4 C710,104 716,97 724,96 C728,95.8 731,96.3 734,96.7" fill="none" stroke="#262626" stroke-width="2.6"/>
<rect x="745.2" y="24.5" width="4" height="10" rx="2" fill="#2b2b2b"/>
<path d="M747.2,33 V66" stroke="#2e2e2e" stroke-width="2.2"/>
<path d="M745.6,64 L744.4,88 L750.4,88 L749,64 Z" fill="#333"/>
<path d="M744.2,86 Q744,94 736,99 Q730,102 732,105.5 Q738,108.5 746,108.5 Q755,108.5 757.5,105 Q759,101 754,98.5 Q750.5,94 750.6,86 Z" fill="#2f2f2f"/>
<path d="M736,104 Q746,107 756,104" fill="none" stroke="#555" stroke-width="1"/>
<polyline points="109.5,88.0 109.5,93.6 48.5,93.6 48.5,160.7" fill="none" stroke="#1e2890" stroke-width="2" stroke-linejoin="miter" stroke-linecap="square"/>
<polyline points="127.0,88.0 127.0,93.6 408.2,93.6 408.2,160.0" fill="none" stroke="#1e2890" stroke-width="2" stroke-linejoin="miter" stroke-linecap="square"/>
<polyline points="642.0,88.0 642.0,162.0" fill="none" stroke="#1e2890" stroke-width="2" stroke-linejoin="miter" stroke-linecap="square"/>
<polyline points="657.8,88.0 657.8,139.0 940.0,139.0 940.0,162.0" fill="none" stroke="#1e2890" stroke-width="2" stroke-linejoin="miter" stroke-linecap="square"/>
<g transform="translate(18,160.5) scale(1.0)"><polygon points="3.3,0.5 26.7,0.5 26.7,21 16,21 16,47.7 0.2,47.7 0.2,20 3.3,18.5" fill="#c4c4cb"/><rect x="3.3" y="0.5" width="23.4" height="5.2" fill="#b3b3bb"/><rect x="3.3" y="5.5" width="23.4" height="14" fill="#d6d6dc"/><rect x="6.4" y="7" width="11.9" height="11.5" fill="#8c8c94"/><rect x="7.3" y="8" width="10.1" height="9.5" fill="#1e1e21"/><rect x="0.2" y="18.5" width="17" height="3" fill="#dedee3"/><rect x="5" y="23" width="10" height="21" fill="#a6a6ae"/><rect x="0.6" y="24" width="4" height="23.5" fill="#e4e4e8"/><rect x="8.3" y="50.8" width="8.4" height="8.4" fill="#e2e2e6"/><rect x="9.5" y="47.5" width="6" height="3.5" fill="#b8b8c0"/><polygon points="39,2 63.5,2 63.5,19 65.8,21 65.8,48.5 39,48.5" fill="#c6c6cd"/><rect x="39" y="2" width="24.5" height="5.2" fill="#b3b3bb"/><rect x="39" y="7" width="24.5" height="15" fill="#d6d6dc"/><rect x="42.8" y="8.2" width="13.8" height="12.3" fill="#8c8c94"/><rect x="43.8" y="9.2" width="11.8" height="10.3" fill="#1e1e21"/><rect x="60.5" y="21" width="5.3" height="27.5" fill="#acacb4"/><rect x="44" y="26" width="13" height="20" fill="#a9a9b1"/><rect x="57" y="25" width="3.8" height="23.5" fill="#dcdce0"/><circle cx="50.5" cy="33.9" r="3.2" fill="#ececef"/><circle cx="51.2" cy="34.8" r="1.5" fill="#8e8e96"/><rect x="45.1" y="48.5" width="9.2" height="10.7" fill="#e2e2e6"/><rect x="46.5" y="51" width="6.5" height="2.5" fill="#b0b0b8"/><polygon points="18.3,7 39,7 39,25.5 42,28.5 42,52.7 14.4,52.7 14.4,28.5 18.3,25.5" fill="#d9d9df"/><rect x="18.3" y="7" width="20.7" height="5.2" fill="#b9b9c1"/><rect x="21.7" y="13.2" width="13.4" height="12.3" fill="#8c8c94"/><rect x="22.7" y="14.2" width="11.4" height="10.3" fill="#1e1e21"/><rect x="14.4" y="27.5" width="27.6" height="3.5" fill="#e8e8ec"/><rect x="19.5" y="31.5" width="17.5" height="18" fill="#b4b4bc"/><rect x="15" y="32" width="4.2" height="20.7" fill="#eeeef2"/><rect x="37.3" y="32" width="4.2" height="20.7" fill="#eeeef2"/><circle cx="29.8" cy="40" r="3.6" fill="#85858d"/><circle cx="30.6" cy="39" r="1.9" fill="#dcdce0"/><rect x="19.5" y="49.2" width="17.5" height="3.5" fill="#e0e0e5"/></g>
<g transform="translate(378.5,160.5) scale(1.0)"><polygon points="3.3,0.5 26.7,0.5 26.7,21 16,21 16,47.7 0.2,47.7 0.2,20 3.3,18.5" fill="#c4c4cb"/><rect x="3.3" y="0.5" width="23.4" height="5.2" fill="#b3b3bb"/><rect x="3.3" y="5.5" width="23.4" height="14" fill="#d6d6dc"/><rect x="6.4" y="7" width="11.9" height="11.5" fill="#8c8c94"/><rect x="7.3" y="8" width="10.1" height="9.5" fill="#1e1e21"/><rect x="0.2" y="18.5" width="17" height="3" fill="#dedee3"/><rect x="5" y="23" width="10" height="21" fill="#a6a6ae"/><rect x="0.6" y="24" width="4" height="23.5" fill="#e4e4e8"/><rect x="8.3" y="50.8" width="8.4" height="8.4" fill="#e2e2e6"/><rect x="9.5" y="47.5" width="6" height="3.5" fill="#b8b8c0"/><polygon points="39,2 63.5,2 63.5,19 65.8,21 65.8,48.5 39,48.5" fill="#c6c6cd"/><rect x="39" y="2" width="24.5" height="5.2" fill="#b3b3bb"/><rect x="39" y="7" width="24.5" height="15" fill="#d6d6dc"/><rect x="42.8" y="8.2" width="13.8" height="12.3" fill="#8c8c94"/><rect x="43.8" y="9.2" width="11.8" height="10.3" fill="#1e1e21"/><rect x="60.5" y="21" width="5.3" height="27.5" fill="#acacb4"/><rect x="44" y="26" width="13" height="20" fill="#a9a9b1"/><rect x="57" y="25" width="3.8" height="23.5" fill="#dcdce0"/><circle cx="50.5" cy="33.9" r="3.2" fill="#ececef"/><circle cx="51.2" cy="34.8" r="1.5" fill="#8e8e96"/><rect x="45.1" y="48.5" width="9.2" height="10.7" fill="#e2e2e6"/><rect x="46.5" y="51" width="6.5" height="2.5" fill="#b0b0b8"/><polygon points="18.3,7 39,7 39,25.5 42,28.5 42,52.7 14.4,52.7 14.4,28.5 18.3,25.5" fill="#d9d9df"/><rect x="18.3" y="7" width="20.7" height="5.2" fill="#b9b9c1"/><rect x="21.7" y="13.2" width="13.4" height="12.3" fill="#8c8c94"/><rect x="22.7" y="14.2" width="11.4" height="10.3" fill="#1e1e21"/><rect x="14.4" y="27.5" width="27.6" height="3.5" fill="#e8e8ec"/><rect x="19.5" y="31.5" width="17.5" height="18" fill="#b4b4bc"/><rect x="15" y="32" width="4.2" height="20.7" fill="#eeeef2"/><rect x="37.3" y="32" width="4.2" height="20.7" fill="#eeeef2"/><circle cx="29.8" cy="40" r="3.6" fill="#85858d"/><circle cx="30.6" cy="39" r="1.9" fill="#dcdce0"/><rect x="19.5" y="49.2" width="17.5" height="3.5" fill="#e0e0e5"/></g>
<g transform="translate(623,160.5) scale(1.0)"><polygon points="3.3,0.5 26.7,0.5 26.7,21 16,21 16,47.7 0.2,47.7 0.2,20 3.3,18.5" fill="#c4c4cb"/><rect x="3.3" y="0.5" width="23.4" height="5.2" fill="#b3b3bb"/><rect x="3.3" y="5.5" width="23.4" height="14" fill="#d6d6dc"/><rect x="6.4" y="7" width="11.9" height="11.5" fill="#8c8c94"/><rect x="7.3" y="8" width="10.1" height="9.5" fill="#1e1e21"/><rect x="0.2" y="18.5" width="17" height="3" fill="#dedee3"/><rect x="5" y="23" width="10" height="21" fill="#a6a6ae"/><rect x="0.6" y="24" width="4" height="23.5" fill="#e4e4e8"/><rect x="8.3" y="50.8" width="8.4" height="8.4" fill="#e2e2e6"/><rect x="9.5" y="47.5" width="6" height="3.5" fill="#b8b8c0"/><polygon points="39,2 63.5,2 63.5,19 65.8,21 65.8,48.5 39,48.5" fill="#c6c6cd"/><rect x="39" y="2" width="24.5" height="5.2" fill="#b3b3bb"/><rect x="39" y="7" width="24.5" height="15" fill="#d6d6dc"/><rect x="42.8" y="8.2" width="13.8" height="12.3" fill="#8c8c94"/><rect x="43.8" y="9.2" width="11.8" height="10.3" fill="#1e1e21"/><rect x="60.5" y="21" width="5.3" height="27.5" fill="#acacb4"/><rect x="44" y="26" width="13" height="20" fill="#a9a9b1"/><rect x="57" y="25" width="3.8" height="23.5" fill="#dcdce0"/><circle cx="50.5" cy="33.9" r="3.2" fill="#ececef"/><circle cx="51.2" cy="34.8" r="1.5" fill="#8e8e96"/><rect x="45.1" y="48.5" width="9.2" height="10.7" fill="#e2e2e6"/><rect x="46.5" y="51" width="6.5" height="2.5" fill="#b0b0b8"/><polygon points="18.3,7 39,7 39,25.5 42,28.5 42,52.7 14.4,52.7 14.4,28.5 18.3,25.5" fill="#d9d9df"/><rect x="18.3" y="7" width="20.7" height="5.2" fill="#b9b9c1"/><rect x="21.7" y="13.2" width="13.4" height="12.3" fill="#8c8c94"/><rect x="22.7" y="14.2" width="11.4" height="10.3" fill="#1e1e21"/><rect x="14.4" y="27.5" width="27.6" height="3.5" fill="#e8e8ec"/><rect x="19.5" y="31.5" width="17.5" height="18" fill="#b4b4bc"/><rect x="15" y="32" width="4.2" height="20.7" fill="#eeeef2"/><rect x="37.3" y="32" width="4.2" height="20.7" fill="#eeeef2"/><circle cx="29.8" cy="40" r="3.6" fill="#85858d"/><circle cx="30.6" cy="39" r="1.9" fill="#dcdce0"/><rect x="19.5" y="49.2" width="17.5" height="3.5" fill="#e0e0e5"/></g>
<g transform="translate(914,160.5) scale(1.0)"><polygon points="3.3,0.5 26.7,0.5 26.7,21 16,21 16,47.7 0.2,47.7 0.2,20 3.3,18.5" fill="#c4c4cb"/><rect x="3.3" y="0.5" width="23.4" height="5.2" fill="#b3b3bb"/><rect x="3.3" y="5.5" width="23.4" height="14" fill="#d6d6dc"/><rect x="6.4" y="7" width="11.9" height="11.5" fill="#8c8c94"/><rect x="7.3" y="8" width="10.1" height="9.5" fill="#1e1e21"/><rect x="0.2" y="18.5" width="17" height="3" fill="#dedee3"/><rect x="5" y="23" width="10" height="21" fill="#a6a6ae"/><rect x="0.6" y="24" width="4" height="23.5" fill="#e4e4e8"/><rect x="8.3" y="50.8" width="8.4" height="8.4" fill="#e2e2e6"/><rect x="9.5" y="47.5" width="6" height="3.5" fill="#b8b8c0"/><polygon points="39,2 63.5,2 63.5,19 65.8,21 65.8,48.5 39,48.5" fill="#c6c6cd"/><rect x="39" y="2" width="24.5" height="5.2" fill="#b3b3bb"/><rect x="39" y="7" width="24.5" height="15" fill="#d6d6dc"/><rect x="42.8" y="8.2" width="13.8" height="12.3" fill="#8c8c94"/><rect x="43.8" y="9.2" width="11.8" height="10.3" fill="#1e1e21"/><rect x="60.5" y="21" width="5.3" height="27.5" fill="#acacb4"/><rect x="44" y="26" width="13" height="20" fill="#a9a9b1"/><rect x="57" y="25" width="3.8" height="23.5" fill="#dcdce0"/><circle cx="50.5" cy="33.9" r="3.2" fill="#ececef"/><circle cx="51.2" cy="34.8" r="1.5" fill="#8e8e96"/><rect x="45.1" y="48.5" width="9.2" height="10.7" fill="#e2e2e6"/><rect x="46.5" y="51" width="6.5" height="2.5" fill="#b0b0b8"/><polygon points="18.3,7 39,7 39,25.5 42,28.5 42,52.7 14.4,52.7 14.4,28.5 18.3,25.5" fill="#d9d9df"/><rect x="18.3" y="7" width="20.7" height="5.2" fill="#b9b9c1"/><rect x="21.7" y="13.2" width="13.4" height="12.3" fill="#8c8c94"/><rect x="22.7" y="14.2" width="11.4" height="10.3" fill="#1e1e21"/><rect x="14.4" y="27.5" width="27.6" height="3.5" fill="#e8e8ec"/><rect x="19.5" y="31.5" width="17.5" height="18" fill="#b4b4bc"/><rect x="15" y="32" width="4.2" height="20.7" fill="#eeeef2"/><rect x="37.3" y="32" width="4.2" height="20.7" fill="#eeeef2"/><circle cx="29.8" cy="40" r="3.6" fill="#85858d"/><circle cx="30.6" cy="39" r="1.9" fill="#dcdce0"/><rect x="19.5" y="49.2" width="17.5" height="3.5" fill="#e0e0e5"/></g>
<text x="165.3" y="58" font-family="Liberation Sans, sans-serif" font-size="18" font-weight="bold" fill="#17a3ae" letter-spacing="0.8">PD194Z−E12L/EC2</text>
<text x="758.7" y="58" font-family="Liberation Sans, sans-serif" font-size="18" font-weight="bold" fill="#17a3ae" letter-spacing="0.8">PD194Z−E12L/EC3</text>
<circle cx="31.9" cy="487.4" r="13.5" fill="none" stroke="#0a0a0a" stroke-width="1.9"/>
<circle cx="31.9" cy="509.3" r="13.5" fill="none" stroke="#0a0a0a" stroke-width="1.9"/>
<path d="M31.9,478.5L39.4,491.5H24.4Z" fill="none" stroke="#0a0a0a" stroke-width="1.9"/>
<path d="M20.9,501.7L31.9,510L42.9,501.7M31.9,510V519.3" fill="none" stroke="#0a0a0a" stroke-width="1.9"/>
<polyline points="31.9,510.3 61.1,510.3 61.1,531.0" fill="none" stroke="#0a0a0a" stroke-width="2.25" stroke-linejoin="miter" stroke-linecap="square"/>
<path d="M56.1,531H66.1M58.0,534.6H64.2M59.6,538H62.6" stroke="#0a0a0a" stroke-width="1.8"/>
<circle cx="1014" cy="487.4" r="13.5" fill="none" stroke="#0a0a0a" stroke-width="1.9"/>
<circle cx="1014" cy="509.3" r="13.5" fill="none" stroke="#0a0a0a" stroke-width="1.9"/>
<path d="M1014,478.5L1021.5,491.5H1006.5Z" fill="none" stroke="#0a0a0a" stroke-width="1.9"/>
<path d="M1003,501.7L1014,510L1025,501.7M1014,510V519.3" fill="none" stroke="#0a0a0a" stroke-width="1.9"/>
<polyline points="1014.0,510.3 1043.6,510.3 1043.6,531.0" fill="none" stroke="#0a0a0a" stroke-width="2.25" stroke-linejoin="miter" stroke-linecap="square"/>
<path d="M1038.6,531H1048.6M1040.5,534.6H1046.6999999999998M1042.1,538H1045.1" stroke="#0a0a0a" stroke-width="1.8"/>
<rect x="93.5" y="493.8" width="309.5" height="7.199999999999989" rx="1" fill="#fff" stroke="#0a0a0a" stroke-width="2"/>
<rect x="605" y="493.8" width="365.29999999999995" height="7.199999999999989" rx="1" fill="#fff" stroke="#0a0a0a" stroke-width="2"/>
<polyline points="403.0,496.9 475.5,496.9 475.5,584.2" fill="none" stroke="#0a0a0a" stroke-width="2.25" stroke-linejoin="miter" stroke-linecap="square"/>
<polyline points="600.5,496.9 605.0,496.9" fill="none" stroke="#0a0a0a" stroke-width="2.25" stroke-linejoin="miter" stroke-linecap="square"/>
<g transform="translate(347,408) scale(1.0,1.0)"><polygon points="72,7.5 90.5,8.5 91,78.3 74,78.3" fill="#e3e3e6"/><rect x="80.5" y="10" width="1.2" height="67" fill="#c9c9cd"/><rect x="86" y="12" width="4" height="10" fill="#d2d2d6"/><rect x="87" y="50" width="3" height="25" fill="#d0d0d4"/><polygon points="11.3,7.2 80,7.8 90.5,8.5 81,17.5 11.3,17" fill="#f3f3f4"/><polygon points="11.3,15.8 81,16.5 81,18.5 11.3,18" fill="#cfcfd3"/><polygon points="5.2,18 81,18.5 80,31 5.2,29.6" fill="#f1f1f2"/><polygon points="5.2,28 80,29.8 80,31.5 5.2,29.8" fill="#d6d6da"/><path d="M6.5,27.5L9.5,19.5L12.5,27.5M7.2,24.5h4.6M15,20h5v7.5h-5zM17.3,20v7.5M21.5,20.5h4.5v6.5h-4.5M22,23.8h3.5M29.5,19.5l-1.8,8M31,22.5l4,-1.5M31.2,26.5l3.8,-4M36.5,21h4M38.5,20v8M41,23l4.5,4M41,27l4.5,-4" fill="none" stroke="#202024" stroke-width="1.25" opacity="0.85"/><polygon points="15.8,0.1 59,1 59,8.2 15.8,7.4" fill="#5ebd69"/><polygon points="15.8,4.3 59,5 59,8.2 15.8,7.4" fill="#1f3322"/><path d="M17.60,4.70l0.6,2.8M20.35,4.75l0.6,2.8M23.10,4.80l0.6,2.8M25.85,4.85l0.6,2.8M28.60,4.90l0.6,2.8M31.35,4.95l0.6,2.8M34.10,5.00l0.6,2.8M36.85,5.05l0.6,2.8M39.60,5.10l0.6,2.8M42.35,5.15l0.6,2.8M45.10,5.20l0.6,2.8M47.85,5.25l0.6,2.8M50.60,5.30l0.6,2.8M53.35,5.35l0.6,2.8M56.10,5.40l0.6,2.8" stroke="#f4f4f4" stroke-width="1.6"/><polygon points="0.1,30.1 74.2,36.7 74.2,66.6 0.1,58.5" fill="#2fb0b9"/><polygon points="0.1,30.1 74.2,36.7 74.2,37.8 0.1,31.2" fill="#239aa3"/><rect x="37" y="39.5" width="8" height="2" fill="#1c4d52" opacity="0.8"/><rect x="0.5" y="31.5" width="5" height="1.5" fill="#1c4d52" opacity="0.6"/><polygon points="0.1,58.5 74.2,66.6 74.2,68.8 0.1,60.5" fill="#ededee"/><polygon points="5.2,60.6 74.2,68.8 74.2,76 11,70 5.2,69" fill="#bdbdc1"/><polygon points="11,70 74.2,76 74.2,78.3 11,72" fill="#a9a9ae"/><rect x="49.9" y="58" width="6.6" height="4.6" fill="#1b1b1b"/><rect x="66.8" y="62.6" width="2.6" height="2" fill="#e4cf3c"/><rect x="55" y="3.2" width="6" height="41.599999999999994" rx="1.5" fill="#202020"/><circle cx="60.5" cy="41.0" r="3" fill="#b89540"/><circle cx="57" cy="43.8" r="2.6" fill="#dcb84a"/></g>
<g transform="translate(652.9,408.3) scale(1.0,1.0)"><polygon points="72,7.5 90.5,8.5 91,78.3 74,78.3" fill="#e3e3e6"/><rect x="80.5" y="10" width="1.2" height="67" fill="#c9c9cd"/><rect x="86" y="12" width="4" height="10" fill="#d2d2d6"/><rect x="87" y="50" width="3" height="25" fill="#d0d0d4"/><polygon points="11.3,7.2 80,7.8 90.5,8.5 81,17.5 11.3,17" fill="#f3f3f4"/><polygon points="11.3,15.8 81,16.5 81,18.5 11.3,18" fill="#cfcfd3"/><polygon points="5.2,18 81,18.5 80,31 5.2,29.6" fill="#f1f1f2"/><polygon points="5.2,28 80,29.8 80,31.5 5.2,29.8" fill="#d6d6da"/><path d="M6.5,27.5L9.5,19.5L12.5,27.5M7.2,24.5h4.6M15,20h5v7.5h-5zM17.3,20v7.5M21.5,20.5h4.5v6.5h-4.5M22,23.8h3.5M29.5,19.5l-1.8,8M31,22.5l4,-1.5M31.2,26.5l3.8,-4M36.5,21h4M38.5,20v8M41,23l4.5,4M41,27l4.5,-4" fill="none" stroke="#202024" stroke-width="1.25" opacity="0.85"/><polygon points="15.8,0.1 59,1 59,8.2 15.8,7.4" fill="#5ebd69"/><polygon points="15.8,4.3 59,5 59,8.2 15.8,7.4" fill="#1f3322"/><path d="M17.60,4.70l0.6,2.8M20.35,4.75l0.6,2.8M23.10,4.80l0.6,2.8M25.85,4.85l0.6,2.8M28.60,4.90l0.6,2.8M31.35,4.95l0.6,2.8M34.10,5.00l0.6,2.8M36.85,5.05l0.6,2.8M39.60,5.10l0.6,2.8M42.35,5.15l0.6,2.8M45.10,5.20l0.6,2.8M47.85,5.25l0.6,2.8M50.60,5.30l0.6,2.8M53.35,5.35l0.6,2.8M56.10,5.40l0.6,2.8" stroke="#f4f4f4" stroke-width="1.6"/><polygon points="0.1,30.1 74.2,36.7 74.2,66.6 0.1,58.5" fill="#2fb0b9"/><polygon points="0.1,30.1 74.2,36.7 74.2,37.8 0.1,31.2" fill="#239aa3"/><rect x="37" y="39.5" width="8" height="2" fill="#1c4d52" opacity="0.8"/><rect x="0.5" y="31.5" width="5" height="1.5" fill="#1c4d52" opacity="0.6"/><polygon points="0.1,58.5 74.2,66.6 74.2,68.8 0.1,60.5" fill="#ededee"/><polygon points="5.2,60.6 74.2,68.8 74.2,76 11,70 5.2,69" fill="#bdbdc1"/><polygon points="11,70 74.2,76 74.2,78.3 11,72" fill="#a9a9ae"/><rect x="49.9" y="58" width="6.6" height="4.6" fill="#1b1b1b"/><rect x="66.8" y="62.6" width="2.6" height="2" fill="#e4cf3c"/><rect x="55" y="3.2" width="6" height="41.599999999999994" rx="1.5" fill="#202020"/><circle cx="60.5" cy="41.0" r="3" fill="#b89540"/><circle cx="57" cy="43.8" r="2.6" fill="#dcb84a"/></g>
<text x="163.7" y="453" font-family="Liberation Sans, sans-serif" font-size="18" font-weight="bold" fill="#17a3ae" letter-spacing="0.8">PD194Z−E14L/EC2</text>
<text x="750.4" y="458" font-family="Liberation Sans, sans-serif" font-size="18" font-weight="bold" fill="#17a3ae" letter-spacing="0.8">PD194Z−E14L/EC2</text>
<polyline points="31.9,524.0 31.9,641.0" fill="none" stroke="#0a0a0a" stroke-width="2.25" stroke-linejoin="miter" stroke-linecap="square"/>
<polyline points="1014.6,524.0 1014.6,641.0" fill="none" stroke="#0a0a0a" stroke-width="2.25" stroke-linejoin="miter" stroke-linecap="square"/>
<polyline points="31.9,641.5 31.9,672.0" fill="none" stroke="#0a0a0a" stroke-width="2.25" stroke-linejoin="miter" stroke-linecap="square"/>
<path d="M28.7,668.8L35.1,675.2M28.7,675.2L35.1,668.8" stroke="#0a0a0a" stroke-width="1.8"/>
<polyline points="26.3,675.0 31.9,689.0" fill="none" stroke="#0a0a0a" stroke-width="2.25" stroke-linejoin="miter" stroke-linecap="square"/>
<polyline points="31.9,689.0 31.9,713.5" fill="none" stroke="#0a0a0a" stroke-width="2.25" stroke-linejoin="miter" stroke-linecap="square"/>
<path d="M25.4,703.5L31.9,710L38.4,703.5M25.4,708L31.9,714.5L38.4,708" fill="none" stroke="#0a0a0a" stroke-width="1.8"/>
<ellipse cx="11.0" cy="733.9" rx="4.75" ry="5.54" fill="none" stroke="#0a0a0a" stroke-width="2.0"/>
<path d="M16.54,738.12L21.30,730.47M19.98,738.65L24.73,730.20M17.07,735.75L25.78,733.11" stroke="#0a0a0a" stroke-width="2.07"/>
<ellipse cx="11.0" cy="753" rx="4.75" ry="5.54" fill="none" stroke="#0a0a0a" stroke-width="2.0"/>
<path d="M16.54,757.22L21.30,749.57M19.98,757.75L24.73,749.30M17.07,754.85L25.78,752.21" stroke="#0a0a0a" stroke-width="2.07"/>
<polyline points="11.0,724.2 11.0,762.8" fill="none" stroke="#0a0a0a" stroke-width="2.25" stroke-linejoin="miter" stroke-linecap="square"/>
<ellipse cx="31.9" cy="733.9" rx="4.75" ry="5.54" fill="none" stroke="#0a0a0a" stroke-width="2.0"/>
<path d="M37.44,738.12L42.20,730.47M40.88,738.65L45.63,730.20M37.97,735.75L46.68,733.11" stroke="#0a0a0a" stroke-width="2.07"/>
<ellipse cx="31.9" cy="753" rx="4.75" ry="5.54" fill="none" stroke="#0a0a0a" stroke-width="2.0"/>
<path d="M37.44,757.22L42.20,749.57M40.88,757.75L45.63,749.30M37.97,754.85L46.68,752.21" stroke="#0a0a0a" stroke-width="2.07"/>
<ellipse cx="52.8" cy="733.9" rx="4.75" ry="5.54" fill="none" stroke="#0a0a0a" stroke-width="2.0"/>
<path d="M58.34,738.12L63.10,730.47M61.78,738.65L66.53,730.20M58.87,735.75L67.58,733.11" stroke="#0a0a0a" stroke-width="2.07"/>
<ellipse cx="52.8" cy="753" rx="4.75" ry="5.54" fill="none" stroke="#0a0a0a" stroke-width="2.0"/>
<path d="M58.34,757.22L63.10,749.57M61.78,757.75L66.53,749.30M58.87,754.85L67.58,752.21" stroke="#0a0a0a" stroke-width="2.07"/>
<polyline points="52.8,724.2 52.8,762.8" fill="none" stroke="#0a0a0a" stroke-width="2.25" stroke-linejoin="miter" stroke-linecap="square"/>
<polyline points="31.9,713.5 31.9,804.6" fill="none" stroke="#0a0a0a" stroke-width="2.25" stroke-linejoin="miter" stroke-linecap="square"/>
<polyline points="1014.6,641.5 1014.6,672.0" fill="none" stroke="#0a0a0a" stroke-width="2.25" stroke-linejoin="miter" stroke-linecap="square"/>
<path d="M1011.4,668.8L1017.8000000000001,675.2M1011.4,675.2L1017.8000000000001,668.8" stroke="#0a0a0a" stroke-width="1.8"/>
<polyline points="1009.0,675.0 1014.6,689.0" fill="none" stroke="#0a0a0a" stroke-width="2.25" stroke-linejoin="miter" stroke-linecap="square"/>
<polyline points="1014.6,689.0 1014.6,713.5" fill="none" stroke="#0a0a0a" stroke-width="2.25" stroke-linejoin="miter" stroke-linecap="square"/>
<path d="M1008.1,703.5L1014.6,710L1021.1,703.5M1008.1,708L1014.6,714.5L1021.1,708" fill="none" stroke="#0a0a0a" stroke-width="1.8"/>
<ellipse cx="993.7" cy="733.9" rx="4.75" ry="5.54" fill="none" stroke="#0a0a0a" stroke-width="2.0"/>
<path d="M999.24,738.12L1004.00,730.47M1002.68,738.65L1007.43,730.20M999.77,735.75L1008.48,733.11" stroke="#0a0a0a" stroke-width="2.07"/>
<ellipse cx="993.7" cy="753" rx="4.75" ry="5.54" fill="none" stroke="#0a0a0a" stroke-width="2.0"/>
<path d="M999.24,757.22L1004.00,749.57M1002.68,757.75L1007.43,749.30M999.77,754.85L1008.48,752.21" stroke="#0a0a0a" stroke-width="2.07"/>
<polyline points="993.7,724.2 993.7,762.8" fill="none" stroke="#0a0a0a" stroke-width="2.25" stroke-linejoin="miter" stroke-linecap="square"/>
<ellipse cx="1014.6" cy="733.9" rx="4.75" ry="5.54" fill="none" stroke="#0a0a0a" stroke-width="2.0"/>
<path d="M1020.14,738.12L1024.90,730.47M1023.58,738.65L1028.33,730.20M1020.67,735.75L1029.38,733.11" stroke="#0a0a0a" stroke-width="2.07"/>
<ellipse cx="1014.6" cy="753" rx="4.75" ry="5.54" fill="none" stroke="#0a0a0a" stroke-width="2.0"/>
<path d="M1020.14,757.22L1024.90,749.57M1023.58,757.75L1028.33,749.30M1020.67,754.85L1029.38,752.21" stroke="#0a0a0a" stroke-width="2.07"/>
<ellipse cx="1035.5" cy="733.9" rx="4.75" ry="5.54" fill="none" stroke="#0a0a0a" stroke-width="2.0"/>
<path d="M1041.04,738.12L1045.80,730.47M1044.48,738.65L1049.23,730.20M1041.57,735.75L1050.28,733.11" stroke="#0a0a0a" stroke-width="2.07"/>
<ellipse cx="1035.5" cy="753" rx="4.75" ry="5.54" fill="none" stroke="#0a0a0a" stroke-width="2.0"/>
<path d="M1041.04,757.22L1045.80,749.57M1044.48,757.75L1049.23,749.30M1041.57,754.85L1050.28,752.21" stroke="#0a0a0a" stroke-width="2.07"/>
<polyline points="1035.5,724.2 1035.5,762.8" fill="none" stroke="#0a0a0a" stroke-width="2.25" stroke-linejoin="miter" stroke-linecap="square"/>
<polyline points="1014.6,713.5 1014.6,804.6" fill="none" stroke="#0a0a0a" stroke-width="2.25" stroke-linejoin="miter" stroke-linecap="square"/>
<text x="12.8" y="680.5" font-family="Liberation Sans, sans-serif" font-size="10" font-weight="bold" fill="#0a0a0a" letter-spacing="0">K1</text>
<text x="995" y="680.5" font-family="Liberation Sans, sans-serif" font-size="10" font-weight="bold" fill="#0a0a0a" letter-spacing="0">K1</text>
<polyline points="31.9,804.6 103.0,804.6 103.0,501.0" fill="none" stroke="#0a0a0a" stroke-width="2.25" stroke-linejoin="miter" stroke-linecap="square"/>
<ellipse cx="102.8" cy="497.4" rx="1.9949999999999999" ry="1.805" fill="#fff" stroke="#0a0a0a" stroke-width="1.6"/>
<polyline points="31.9,787.4 15.5,787.4 15.5,814.6" fill="none" stroke="#0a0a0a" stroke-width="2.25" stroke-linejoin="miter" stroke-linecap="square"/>
<polyline points="5.6,816.4 15.5,833.3" fill="none" stroke="#0a0a0a" stroke-width="2.25" stroke-linejoin="miter" stroke-linecap="square"/>
<polyline points="15.5,833.3 15.5,872.6" fill="none" stroke="#0a0a0a" stroke-width="2.25" stroke-linejoin="miter" stroke-linecap="square"/>
<rect x="11.5" y="842.7" width="8" height="22.299999999999955" fill="#fff" stroke="#0a0a0a" stroke-width="1.8"/>
<path d="M15.5,842.7V862M13.3,854.85L15.5,862L17.7,854.85" fill="none" stroke="#0a0a0a" stroke-width="1.6"/>
<path d="M9.5,872.6H21.5M11.780000000000001,876.2H19.22M13.7,879.6H17.3" stroke="#0a0a0a" stroke-width="1.8"/>
<polyline points="1014.6,804.6 961.1,804.6 961.1,501.0" fill="none" stroke="#0a0a0a" stroke-width="2.25" stroke-linejoin="miter" stroke-linecap="square"/>
<ellipse cx="961.2" cy="497.4" rx="1.9949999999999999" ry="1.805" fill="#fff" stroke="#0a0a0a" stroke-width="1.6"/>
<polyline points="1014.6,787.0 1031.0,787.0 1031.0,814.4" fill="none" stroke="#0a0a0a" stroke-width="2.25" stroke-linejoin="miter" stroke-linecap="square"/>
<polyline points="1040.3,816.4 1031.0,833.7" fill="none" stroke="#0a0a0a" stroke-width="2.25" stroke-linejoin="miter" stroke-linecap="square"/>
<polyline points="1031.0,833.7 1031.0,873.8" fill="none" stroke="#0a0a0a" stroke-width="2.25" stroke-linejoin="miter" stroke-linecap="square"/>
<rect x="1027" y="843.8" width="8" height="21.700000000000045" fill="#fff" stroke="#0a0a0a" stroke-width="1.8"/>
<path d="M1031,843.8V862.5M1028.8,855.65L1031,862.5L1033.2,855.65" fill="none" stroke="#0a0a0a" stroke-width="1.6"/>
<path d="M1025,873.8H1037M1027.28,877.4H1034.72M1029.2,880.8H1032.8" stroke="#0a0a0a" stroke-width="1.8"/>
<polyline points="142.2,501.0 142.2,561.0" fill="none" stroke="#0a0a0a" stroke-width="2.25" stroke-linejoin="miter" stroke-linecap="square"/>
<ellipse cx="142.2" cy="497.4" rx="1.9949999999999999" ry="1.805" fill="#fff" stroke="#0a0a0a" stroke-width="1.6"/>
<path d="M136.7,562L142.7,576" stroke="#0a0a0a" stroke-width="3.2"/>
<polyline points="142.2,576.0 142.2,726.2" fill="none" stroke="#0a0a0a" stroke-width="2.25" stroke-linejoin="miter" stroke-linecap="square"/>
<ellipse cx="129.0" cy="596.7" rx="3.17" ry="3.70" fill="none" stroke="#0a0a0a" stroke-width="2.0"/>
<path d="M132.70,599.52L135.86,594.41M134.98,599.87L138.15,594.24M133.05,597.93L138.86,596.17" stroke="#0a0a0a" stroke-width="1.58"/>
<polyline points="129.0,590.3 129.0,603.3" fill="none" stroke="#0a0a0a" stroke-width="2.25" stroke-linejoin="miter" stroke-linecap="square"/>
<ellipse cx="142.2" cy="596.7" rx="3.17" ry="3.70" fill="none" stroke="#0a0a0a" stroke-width="2.0"/>
<path d="M145.90,599.52L149.06,594.41M148.18,599.87L151.35,594.24M146.25,597.93L152.06,596.17" stroke="#0a0a0a" stroke-width="1.58"/>
<ellipse cx="155.39999999999998" cy="596.7" rx="3.17" ry="3.70" fill="none" stroke="#0a0a0a" stroke-width="2.0"/>
<path d="M159.10,599.52L162.26,594.41M161.38,599.87L164.55,594.24M159.45,597.93L165.26,596.17" stroke="#0a0a0a" stroke-width="1.58"/>
<polyline points="155.4,590.3 155.4,603.3" fill="none" stroke="#0a0a0a" stroke-width="2.25" stroke-linejoin="miter" stroke-linecap="square"/>
<polyline points="142.2,636.7 168.0,636.7 168.0,703.5" fill="none" stroke="#0a0a0a" stroke-width="2.25" stroke-linejoin="miter" stroke-linecap="square"/>
<rect x="164" y="673" width="8" height="22" fill="#fff" stroke="#0a0a0a" stroke-width="1.8"/>
<path d="M168,673V692M165.8,685.0L168,692L170.2,685.0" fill="none" stroke="#0a0a0a" stroke-width="1.6"/>
<path d="M162,703.5H174M164.28,707.1H171.72M166.2,710.5H169.8" stroke="#0a0a0a" stroke-width="1.8"/>
<rect x="138.79999999999998" y="726.2" width="6.8" height="13.799999999999955" fill="#fff" stroke="#0a0a0a" stroke-width="1.6"/>
<line x1="142.2" y1="726.2" x2="142.2" y2="740" stroke="#0a0a0a" stroke-width="1.2"/>
<polyline points="142.2,740.0 142.2,751.4" fill="none" stroke="#0a0a0a" stroke-width="2.25" stroke-linejoin="miter" stroke-linecap="square"/>
<polyline points="135.9,751.4 142.2,767.7" fill="none" stroke="#0a0a0a" stroke-width="2.25" stroke-linejoin="miter" stroke-linecap="square"/>
<polyline points="142.2,767.7 142.2,790.3" fill="none" stroke="#0a0a0a" stroke-width="2.25" stroke-linejoin="miter" stroke-linecap="square"/>
<path d="M137.2,795.3 A5,5 0 1 1 142.2,800.3 M137.2,795.3 H142.2" fill="none" stroke="#0a0a0a" stroke-width="1.9"/>
<polyline points="142.2,800.3 142.2,819.2" fill="none" stroke="#0a0a0a" stroke-width="2.25" stroke-linejoin="miter" stroke-linecap="square"/>
<path d="M142.2,819.2L135.6,830.4M129.79999999999998,827.6L140.7,834M126.79999999999998,833.4L137.7,839.5M131.6,837L124.49999999999999,849.7H138.64999999999998M138.64999999999998,843.1V855.8M142.2,819.2L148.79999999999998,830.4M154.6,827.6L143.7,834M157.6,833.4L146.7,839.5M152.79999999999998,837L159.89999999999998,849.7H145.75M145.75,843.1V855.8" fill="none" stroke="#0a0a0a" stroke-width="1.9"/>
<polyline points="908.0,501.0 908.0,561.0" fill="none" stroke="#0a0a0a" stroke-width="2.25" stroke-linejoin="miter" stroke-linecap="square"/>
<ellipse cx="908" cy="497.4" rx="1.9949999999999999" ry="1.805" fill="#fff" stroke="#0a0a0a" stroke-width="1.6"/>
<path d="M902.5,562L908.5,576" stroke="#0a0a0a" stroke-width="3.2"/>
<polyline points="908.0,576.0 908.0,726.2" fill="none" stroke="#0a0a0a" stroke-width="2.25" stroke-linejoin="miter" stroke-linecap="square"/>
<ellipse cx="894.8" cy="596.7" rx="3.17" ry="3.70" fill="none" stroke="#0a0a0a" stroke-width="2.0"/>
<path d="M898.50,599.52L901.66,594.41M900.78,599.87L903.95,594.24M898.85,597.93L904.66,596.17" stroke="#0a0a0a" stroke-width="1.58"/>
<polyline points="894.8,590.3 894.8,603.3" fill="none" stroke="#0a0a0a" stroke-width="2.25" stroke-linejoin="miter" stroke-linecap="square"/>
<ellipse cx="908" cy="596.7" rx="3.17" ry="3.70" fill="none" stroke="#0a0a0a" stroke-width="2.0"/>
<path d="M911.70,599.52L914.86,594.41M913.98,599.87L917.15,594.24M912.05,597.93L917.86,596.17" stroke="#0a0a0a" stroke-width="1.58"/>
<ellipse cx="921.2" cy="596.7" rx="3.17" ry="3.70" fill="none" stroke="#0a0a0a" stroke-width="2.0"/>
<path d="M924.90,599.52L928.06,594.41M927.18,599.87L930.35,594.24M925.25,597.93L931.06,596.17" stroke="#0a0a0a" stroke-width="1.58"/>
<polyline points="921.2,590.3 921.2,603.3" fill="none" stroke="#0a0a0a" stroke-width="2.25" stroke-linejoin="miter" stroke-linecap="square"/>
<polyline points="908.0,636.7 933.4,636.7 933.4,703.5" fill="none" stroke="#0a0a0a" stroke-width="2.25" stroke-linejoin="miter" stroke-linecap="square"/>
<rect x="929.4" y="673" width="8" height="22" fill="#fff" stroke="#0a0a0a" stroke-width="1.8"/>
<path d="M933.4,673V692M931.1999999999999,685.0L933.4,692L935.6,685.0" fill="none" stroke="#0a0a0a" stroke-width="1.6"/>
<path d="M927.4,703.5H939.4M929.68,707.1H937.12M931.6,710.5H935.1999999999999" stroke="#0a0a0a" stroke-width="1.8"/>
<rect x="904.6" y="726.2" width="6.8" height="13.799999999999955" fill="#fff" stroke="#0a0a0a" stroke-width="1.6"/>
<line x1="908" y1="726.2" x2="908" y2="740" stroke="#0a0a0a" stroke-width="1.2"/>
<polyline points="908.0,740.0 908.0,751.4" fill="none" stroke="#0a0a0a" stroke-width="2.25" stroke-linejoin="miter" stroke-linecap="square"/>
<polyline points="901.7,751.4 908.0,767.7" fill="none" stroke="#0a0a0a" stroke-width="2.25" stroke-linejoin="miter" stroke-linecap="square"/>
<polyline points="908.0,767.7 908.0,790.3" fill="none" stroke="#0a0a0a" stroke-width="2.25" stroke-linejoin="miter" stroke-linecap="square"/>
<path d="M903,795.3 A5,5 0 1 1 908,800.3 M903,795.3 H908" fill="none" stroke="#0a0a0a" stroke-width="1.9"/>
<polyline points="908.0,800.3 908.0,819.2" fill="none" stroke="#0a0a0a" stroke-width="2.25" stroke-linejoin="miter" stroke-linecap="square"/>
<path d="M908,819.2L901.4,830.4M895.6,827.6L906.5,834M892.6,833.4L903.5,839.5M897.4,837L890.3,849.7H904.45M904.45,843.1V855.8M908,819.2L914.6,830.4M920.4,827.6L909.5,834M923.4,833.4L912.5,839.5M918.6,837L925.7,849.7H911.55M911.55,843.1V855.8" fill="none" stroke="#0a0a0a" stroke-width="1.9"/>
<polyline points="214.3,501.0 214.3,532.5" fill="none" stroke="#0a0a0a" stroke-width="2.25" stroke-linejoin="miter" stroke-linecap="square"/>
<ellipse cx="214.3" cy="497.2" rx="1.9949999999999999" ry="1.805" fill="#fff" stroke="#0a0a0a" stroke-width="1.6"/>
<path d="M209.5,537.5 A4.8,4.8 0 0 1 219.10000000000002,537.5" fill="none" stroke="#0a0a0a" stroke-width="2.25"/>
<polyline points="214.3,537.5 214.3,564.5" fill="none" stroke="#0a0a0a" stroke-width="2.25" stroke-linejoin="miter" stroke-linecap="square"/>
<path d="M211.10000000000002,561.3L217.5,567.7M211.10000000000002,567.7L217.5,561.3" stroke="#0a0a0a" stroke-width="1.8"/>
<polyline points="208.8,568.6 214.3,582.5" fill="none" stroke="#0a0a0a" stroke-width="2.25" stroke-linejoin="miter" stroke-linecap="square"/>
<polyline points="214.3,582.5 214.3,609.2" fill="none" stroke="#0a0a0a" stroke-width="2.25" stroke-linejoin="miter" stroke-linecap="square"/>
<path d="M209.70000000000002,609.2 A4.6,4.6 0 0 0 218.9,609.2" fill="none" stroke="#0a0a0a" stroke-width="2.25"/>
<polyline points="214.3,613.8 214.3,675.6" fill="none" stroke="#0a0a0a" stroke-width="2.25" stroke-linejoin="miter" stroke-linecap="square"/>
<ellipse cx="196.0" cy="632.3" rx="3.89" ry="4.54" fill="none" stroke="#0a0a0a" stroke-width="2.0"/>
<path d="M200.54,635.76L204.42,629.49M203.34,636.19L207.23,629.28M200.97,633.81L208.10,631.65" stroke="#0a0a0a" stroke-width="1.94"/>
<polyline points="196.0,623.3 196.0,641.1" fill="none" stroke="#0a0a0a" stroke-width="2.25" stroke-linejoin="miter" stroke-linecap="square"/>
<ellipse cx="214.3" cy="632.3" rx="3.89" ry="4.54" fill="none" stroke="#0a0a0a" stroke-width="2.0"/>
<path d="M218.84,635.76L222.72,629.49M221.64,636.19L225.53,629.28M219.27,633.81L226.40,631.65" stroke="#0a0a0a" stroke-width="1.94"/>
<ellipse cx="232.60000000000002" cy="632.3" rx="3.89" ry="4.54" fill="none" stroke="#0a0a0a" stroke-width="2.0"/>
<path d="M237.14,635.76L241.02,629.49M239.94,636.19L243.83,629.28M237.57,633.81L244.70,631.65" stroke="#0a0a0a" stroke-width="1.94"/>
<polyline points="232.6,623.3 232.6,641.1" fill="none" stroke="#0a0a0a" stroke-width="2.25" stroke-linejoin="miter" stroke-linecap="square"/>
<path d="M209.70000000000002,675.6H218.9L214.3,683.2Z" fill="none" stroke="#0a0a0a" stroke-width="1.8"/>
<polyline points="296.3,501.0 296.3,532.5" fill="none" stroke="#0a0a0a" stroke-width="2.25" stroke-linejoin="miter" stroke-linecap="square"/>
<ellipse cx="296.3" cy="497.2" rx="1.9949999999999999" ry="1.805" fill="#fff" stroke="#0a0a0a" stroke-width="1.6"/>
<path d="M291.5,537.5 A4.8,4.8 0 0 1 301.1,537.5" fill="none" stroke="#0a0a0a" stroke-width="2.25"/>
<polyline points="296.3,537.5 296.3,564.5" fill="none" stroke="#0a0a0a" stroke-width="2.25" stroke-linejoin="miter" stroke-linecap="square"/>
<path d="M293.1,561.3L299.5,567.7M293.1,567.7L299.5,561.3" stroke="#0a0a0a" stroke-width="1.8"/>
<polyline points="290.8,568.6 296.3,582.5" fill="none" stroke="#0a0a0a" stroke-width="2.25" stroke-linejoin="miter" stroke-linecap="square"/>
<polyline points="296.3,582.5 296.3,609.2" fill="none" stroke="#0a0a0a" stroke-width="2.25" stroke-linejoin="miter" stroke-linecap="square"/>
<path d="M291.7,609.2 A4.6,4.6 0 0 0 300.90000000000003,609.2" fill="none" stroke="#0a0a0a" stroke-width="2.25"/>
<polyline points="296.3,613.8 296.3,675.6" fill="none" stroke="#0a0a0a" stroke-width="2.25" stroke-linejoin="miter" stroke-linecap="square"/>
<ellipse cx="278.0" cy="632.3" rx="3.89" ry="4.54" fill="none" stroke="#0a0a0a" stroke-width="2.0"/>
<path d="M282.54,635.76L286.42,629.49M285.34,636.19L289.23,629.28M282.97,633.81L290.10,631.65" stroke="#0a0a0a" stroke-width="1.94"/>
<polyline points="278.0,623.3 278.0,641.1" fill="none" stroke="#0a0a0a" stroke-width="2.25" stroke-linejoin="miter" stroke-linecap="square"/>
<ellipse cx="296.3" cy="632.3" rx="3.89" ry="4.54" fill="none" stroke="#0a0a0a" stroke-width="2.0"/>
<path d="M300.84,635.76L304.72,629.49M303.64,636.19L307.53,629.28M301.27,633.81L308.40,631.65" stroke="#0a0a0a" stroke-width="1.94"/>
<ellipse cx="314.6" cy="632.3" rx="3.89" ry="4.54" fill="none" stroke="#0a0a0a" stroke-width="2.0"/>
<path d="M319.14,635.76L323.02,629.49M321.94,636.19L325.83,629.28M319.57,633.81L326.70,631.65" stroke="#0a0a0a" stroke-width="1.94"/>
<polyline points="314.6,623.3 314.6,641.1" fill="none" stroke="#0a0a0a" stroke-width="2.25" stroke-linejoin="miter" stroke-linecap="square"/>
<path d="M291.7,675.6H300.90000000000003L296.3,683.2Z" fill="none" stroke="#0a0a0a" stroke-width="1.8"/>
<polyline points="375.8,501.0 375.8,532.5" fill="none" stroke="#0a0a0a" stroke-width="2.25" stroke-linejoin="miter" stroke-linecap="square"/>
<ellipse cx="375.8" cy="497.2" rx="1.9949999999999999" ry="1.805" fill="#fff" stroke="#0a0a0a" stroke-width="1.6"/>
<path d="M371.0,537.5 A4.8,4.8 0 0 1 380.6,537.5" fill="none" stroke="#0a0a0a" stroke-width="2.25"/>
<polyline points="375.8,537.5 375.8,564.5" fill="none" stroke="#0a0a0a" stroke-width="2.25" stroke-linejoin="miter" stroke-linecap="square"/>
<path d="M372.6,561.3L379.0,567.7M372.6,567.7L379.0,561.3" stroke="#0a0a0a" stroke-width="1.8"/>
<polyline points="370.3,568.6 375.8,582.5" fill="none" stroke="#0a0a0a" stroke-width="2.25" stroke-linejoin="miter" stroke-linecap="square"/>
<polyline points="375.8,582.5 375.8,609.2" fill="none" stroke="#0a0a0a" stroke-width="2.25" stroke-linejoin="miter" stroke-linecap="square"/>
<path d="M371.2,609.2 A4.6,4.6 0 0 0 380.40000000000003,609.2" fill="none" stroke="#0a0a0a" stroke-width="2.25"/>
<polyline points="375.8,613.8 375.8,675.6" fill="none" stroke="#0a0a0a" stroke-width="2.25" stroke-linejoin="miter" stroke-linecap="square"/>
<ellipse cx="357.5" cy="632.3" rx="3.89" ry="4.54" fill="none" stroke="#0a0a0a" stroke-width="2.0"/>
<path d="M362.04,635.76L365.92,629.49M364.84,636.19L368.73,629.28M362.47,633.81L369.60,631.65" stroke="#0a0a0a" stroke-width="1.94"/>
<polyline points="357.5,623.3 357.5,641.1" fill="none" stroke="#0a0a0a" stroke-width="2.25" stroke-linejoin="miter" stroke-linecap="square"/>
<ellipse cx="375.8" cy="632.3" rx="3.89" ry="4.54" fill="none" stroke="#0a0a0a" stroke-width="2.0"/>
<path d="M380.34,635.76L384.22,629.49M383.14,636.19L387.03,629.28M380.77,633.81L387.90,631.65" stroke="#0a0a0a" stroke-width="1.94"/>
<ellipse cx="394.1" cy="632.3" rx="3.89" ry="4.54" fill="none" stroke="#0a0a0a" stroke-width="2.0"/>
<path d="M398.64,635.76L402.52,629.49M401.44,636.19L405.33,629.28M399.07,633.81L406.20,631.65" stroke="#0a0a0a" stroke-width="1.94"/>
<polyline points="394.1,623.3 394.1,641.1" fill="none" stroke="#0a0a0a" stroke-width="2.25" stroke-linejoin="miter" stroke-linecap="square"/>
<path d="M371.2,675.6H380.40000000000003L375.8,683.2Z" fill="none" stroke="#0a0a0a" stroke-width="1.8"/>
<polyline points="643.9,501.0 643.9,532.5" fill="none" stroke="#0a0a0a" stroke-width="2.25" stroke-linejoin="miter" stroke-linecap="square"/>
<ellipse cx="643.9" cy="497.2" rx="1.9949999999999999" ry="1.805" fill="#fff" stroke="#0a0a0a" stroke-width="1.6"/>
<path d="M639.1,537.5 A4.8,4.8 0 0 1 648.6999999999999,537.5" fill="none" stroke="#0a0a0a" stroke-width="2.25"/>
<polyline points="643.9,537.5 643.9,564.5" fill="none" stroke="#0a0a0a" stroke-width="2.25" stroke-linejoin="miter" stroke-linecap="square"/>
<path d="M640.6999999999999,561.3L647.1,567.7M640.6999999999999,567.7L647.1,561.3" stroke="#0a0a0a" stroke-width="1.8"/>
<polyline points="638.4,568.6 643.9,582.5" fill="none" stroke="#0a0a0a" stroke-width="2.25" stroke-linejoin="miter" stroke-linecap="square"/>
<polyline points="643.9,582.5 643.9,609.2" fill="none" stroke="#0a0a0a" stroke-width="2.25" stroke-linejoin="miter" stroke-linecap="square"/>
<path d="M639.3,609.2 A4.6,4.6 0 0 0 648.5,609.2" fill="none" stroke="#0a0a0a" stroke-width="2.25"/>
<polyline points="643.9,613.8 643.9,675.6" fill="none" stroke="#0a0a0a" stroke-width="2.25" stroke-linejoin="miter" stroke-linecap="square"/>
<ellipse cx="625.6" cy="632.3" rx="3.89" ry="4.54" fill="none" stroke="#0a0a0a" stroke-width="2.0"/>
<path d="M630.14,635.76L634.02,629.49M632.94,636.19L636.83,629.28M630.57,633.81L637.70,631.65" stroke="#0a0a0a" stroke-width="1.94"/>
<polyline points="625.6,623.3 625.6,641.1" fill="none" stroke="#0a0a0a" stroke-width="2.25" stroke-linejoin="miter" stroke-linecap="square"/>
<ellipse cx="643.9" cy="632.3" rx="3.89" ry="4.54" fill="none" stroke="#0a0a0a" stroke-width="2.0"/>
<path d="M648.44,635.76L652.32,629.49M651.24,636.19L655.13,629.28M648.87,633.81L656.00,631.65" stroke="#0a0a0a" stroke-width="1.94"/>
<ellipse cx="662.1999999999999" cy="632.3" rx="3.89" ry="4.54" fill="none" stroke="#0a0a0a" stroke-width="2.0"/>
<path d="M666.74,635.76L670.62,629.49M669.54,636.19L673.43,629.28M667.17,633.81L674.30,631.65" stroke="#0a0a0a" stroke-width="1.94"/>
<polyline points="662.2,623.3 662.2,641.1" fill="none" stroke="#0a0a0a" stroke-width="2.25" stroke-linejoin="miter" stroke-linecap="square"/>
<path d="M639.3,675.6H648.5L643.9,683.2Z" fill="none" stroke="#0a0a0a" stroke-width="1.8"/>
<polyline points="725.0,501.0 725.0,532.5" fill="none" stroke="#0a0a0a" stroke-width="2.25" stroke-linejoin="miter" stroke-linecap="square"/>
<ellipse cx="725" cy="497.2" rx="1.9949999999999999" ry="1.805" fill="#fff" stroke="#0a0a0a" stroke-width="1.6"/>
<path d="M720.2,537.5 A4.8,4.8 0 0 1 729.8,537.5" fill="none" stroke="#0a0a0a" stroke-width="2.25"/>
<polyline points="725.0,537.5 725.0,564.5" fill="none" stroke="#0a0a0a" stroke-width="2.25" stroke-linejoin="miter" stroke-linecap="square"/>
<path d="M721.8,561.3L728.2,567.7M721.8,567.7L728.2,561.3" stroke="#0a0a0a" stroke-width="1.8"/>
<polyline points="719.5,568.6 725.0,582.5" fill="none" stroke="#0a0a0a" stroke-width="2.25" stroke-linejoin="miter" stroke-linecap="square"/>
<polyline points="725.0,582.5 725.0,609.2" fill="none" stroke="#0a0a0a" stroke-width="2.25" stroke-linejoin="miter" stroke-linecap="square"/>
<path d="M720.4,609.2 A4.6,4.6 0 0 0 729.6,609.2" fill="none" stroke="#0a0a0a" stroke-width="2.25"/>
<polyline points="725.0,613.8 725.0,675.6" fill="none" stroke="#0a0a0a" stroke-width="2.25" stroke-linejoin="miter" stroke-linecap="square"/>
<ellipse cx="706.7" cy="632.3" rx="3.89" ry="4.54" fill="none" stroke="#0a0a0a" stroke-width="2.0"/>
<path d="M711.24,635.76L715.12,629.49M714.04,636.19L717.93,629.28M711.67,633.81L718.80,631.65" stroke="#0a0a0a" stroke-width="1.94"/>
<polyline points="706.7,623.3 706.7,641.1" fill="none" stroke="#0a0a0a" stroke-width="2.25" stroke-linejoin="miter" stroke-linecap="square"/>
<ellipse cx="725" cy="632.3" rx="3.89" ry="4.54" fill="none" stroke="#0a0a0a" stroke-width="2.0"/>
<path d="M729.54,635.76L733.42,629.49M732.34,636.19L736.23,629.28M729.97,633.81L737.10,631.65" stroke="#0a0a0a" stroke-width="1.94"/>
<ellipse cx="743.3" cy="632.3" rx="3.89" ry="4.54" fill="none" stroke="#0a0a0a" stroke-width="2.0"/>
<path d="M747.84,635.76L751.72,629.49M750.64,636.19L754.53,629.28M748.27,633.81L755.40,631.65" stroke="#0a0a0a" stroke-width="1.94"/>
<polyline points="743.3,623.3 743.3,641.1" fill="none" stroke="#0a0a0a" stroke-width="2.25" stroke-linejoin="miter" stroke-linecap="square"/>
<path d="M720.4,675.6H729.6L725,683.2Z" fill="none" stroke="#0a0a0a" stroke-width="1.8"/>
<polyline points="804.6,501.0 804.6,532.5" fill="none" stroke="#0a0a0a" stroke-width="2.25" stroke-linejoin="miter" stroke-linecap="square"/>
<ellipse cx="804.6" cy="497.2" rx="1.9949999999999999" ry="1.805" fill="#fff" stroke="#0a0a0a" stroke-width="1.6"/>
<path d="M799.8000000000001,537.5 A4.8,4.8 0 0 1 809.4,537.5" fill="none" stroke="#0a0a0a" stroke-width="2.25"/>
<polyline points="804.6,537.5 804.6,564.5" fill="none" stroke="#0a0a0a" stroke-width="2.25" stroke-linejoin="miter" stroke-linecap="square"/>
<path d="M801.4,561.3L807.8000000000001,567.7M801.4,567.7L807.8000000000001,561.3" stroke="#0a0a0a" stroke-width="1.8"/>
<polyline points="799.1,568.6 804.6,582.5" fill="none" stroke="#0a0a0a" stroke-width="2.25" stroke-linejoin="miter" stroke-linecap="square"/>
<polyline points="804.6,582.5 804.6,609.2" fill="none" stroke="#0a0a0a" stroke-width="2.25" stroke-linejoin="miter" stroke-linecap="square"/>
<path d="M800.0,609.2 A4.6,4.6 0 0 0 809.2,609.2" fill="none" stroke="#0a0a0a" stroke-width="2.25"/>
<polyline points="804.6,613.8 804.6,675.6" fill="none" stroke="#0a0a0a" stroke-width="2.25" stroke-linejoin="miter" stroke-linecap="square"/>
<ellipse cx="786.3000000000001" cy="632.3" rx="3.89" ry="4.54" fill="none" stroke="#0a0a0a" stroke-width="2.0"/>
<path d="M790.84,635.76L794.72,629.49M793.64,636.19L797.53,629.28M791.27,633.81L798.40,631.65" stroke="#0a0a0a" stroke-width="1.94"/>
<polyline points="786.3,623.3 786.3,641.1" fill="none" stroke="#0a0a0a" stroke-width="2.25" stroke-linejoin="miter" stroke-linecap="square"/>
<ellipse cx="804.6" cy="632.3" rx="3.89" ry="4.54" fill="none" stroke="#0a0a0a" stroke-width="2.0"/>
<path d="M809.14,635.76L813.02,629.49M811.94,636.19L815.83,629.28M809.57,633.81L816.70,631.65" stroke="#0a0a0a" stroke-width="1.94"/>
<ellipse cx="822.9" cy="632.3" rx="3.89" ry="4.54" fill="none" stroke="#0a0a0a" stroke-width="2.0"/>
<path d="M827.44,635.76L831.32,629.49M830.24,636.19L834.13,629.28M827.87,633.81L835.00,631.65" stroke="#0a0a0a" stroke-width="1.94"/>
<polyline points="822.9,623.3 822.9,641.1" fill="none" stroke="#0a0a0a" stroke-width="2.25" stroke-linejoin="miter" stroke-linecap="square"/>
<path d="M800.0,675.6H809.2L804.6,683.2Z" fill="none" stroke="#0a0a0a" stroke-width="1.8"/>
<polyline points="466.4,584.2 475.5,601.6" fill="none" stroke="#0a0a0a" stroke-width="2.25" stroke-linejoin="miter" stroke-linecap="square"/>
<circle cx="475.5" cy="601.6" r="2.4" fill="#fff" stroke="#0a0a0a" stroke-width="1.6"/>
<polyline points="475.5,604.0 475.5,804.6 600.3,804.6 600.3,496.9" fill="none" stroke="#0a0a0a" stroke-width="2.25" stroke-linejoin="miter" stroke-linecap="square"/>
<ellipse cx="454.5" cy="672" rx="4.97" ry="5.80" fill="none" stroke="#0a0a0a" stroke-width="2.0"/>
<path d="M460.30,676.42L465.26,668.41M463.88,676.97L468.85,668.14M460.85,673.93L469.96,671.17" stroke="#0a0a0a" stroke-width="2.07"/>
<polyline points="454.5,661.8 454.5,681.6" fill="none" stroke="#0a0a0a" stroke-width="2.25" stroke-linejoin="miter" stroke-linecap="square"/>
<ellipse cx="475.4" cy="672" rx="4.97" ry="5.80" fill="none" stroke="#0a0a0a" stroke-width="2.0"/>
<path d="M481.20,676.42L486.16,668.41M484.78,676.97L489.75,668.14M481.75,673.93L490.86,671.17" stroke="#0a0a0a" stroke-width="2.07"/>
<ellipse cx="496.29999999999995" cy="672" rx="4.97" ry="5.80" fill="none" stroke="#0a0a0a" stroke-width="2.0"/>
<path d="M502.10,676.42L507.06,668.41M505.68,676.97L510.65,668.14M502.65,673.93L511.76,671.17" stroke="#0a0a0a" stroke-width="2.07"/>
<polyline points="496.3,661.8 496.3,681.6" fill="none" stroke="#0a0a0a" stroke-width="2.25" stroke-linejoin="miter" stroke-linecap="square"/>
<polyline points="393.0,497.3 403.0,497.3" fill="none" stroke="#0a0a0a" stroke-width="2.25" stroke-linejoin="miter" stroke-linecap="square"/>
<polyline points="603.0,497.3 612.8,497.3" fill="none" stroke="#0a0a0a" stroke-width="2.25" stroke-linejoin="miter" stroke-linecap="square"/>
<ellipse cx="393" cy="497.3" rx="1.9949999999999999" ry="1.805" fill="#fff" stroke="#0a0a0a" stroke-width="1.6"/>
<ellipse cx="612.8" cy="497.3" rx="1.9949999999999999" ry="1.805" fill="#fff" stroke="#0a0a0a" stroke-width="1.6"/>
<polyline points="365.0,477.0 365.0,486.9 64.3,486.9 64.3,607.2" fill="none" stroke="#1e2890" stroke-width="2" stroke-linejoin="miter" stroke-linecap="square"/>
<polyline points="382.8,480.0 382.8,508.6 248.8,508.6 248.8,543.0" fill="none" stroke="#1e2890" stroke-width="2" stroke-linejoin="miter" stroke-linecap="square"/>
<polyline points="401.5,483.0 401.5,519.3 335.3,519.3 335.3,543.0" fill="none" stroke="#1e2890" stroke-width="2" stroke-linejoin="miter" stroke-linecap="square"/>
<polyline points="419.4,485.0 419.4,544.5" fill="none" stroke="#1e2890" stroke-width="2" stroke-linejoin="miter" stroke-linecap="square"/>
<polyline points="677.0,478.0 677.0,536.5" fill="none" stroke="#1e2890" stroke-width="2" stroke-linejoin="miter" stroke-linecap="square"/>
<polyline points="689.5,480.0 689.5,511.0 757.4,511.0 757.4,542.0" fill="none" stroke="#1e2890" stroke-width="2" stroke-linejoin="miter" stroke-linecap="square"/>
<polyline points="706.9,483.0 706.9,503.9 852.6,503.9 852.6,544.8" fill="none" stroke="#1e2890" stroke-width="2" stroke-linejoin="miter" stroke-linecap="square"/>
<polyline points="725.7,485.0 725.7,490.0 982.1,490.0 982.1,605.5" fill="none" stroke="#1e2890" stroke-width="2" stroke-linejoin="miter" stroke-linecap="square"/>
<g transform="translate(219,543.5) scale(1.0)"><polygon points="3.3,0.5 26.7,0.5 26.7,21 16,21 16,47.7 0.2,47.7 0.2,20 3.3,18.5" fill="#c4c4cb"/><rect x="3.3" y="0.5" width="23.4" height="5.2" fill="#b3b3bb"/><rect x="3.3" y="5.5" width="23.4" height="14" fill="#d6d6dc"/><rect x="6.4" y="7" width="11.9" height="11.5" fill="#8c8c94"/><rect x="7.3" y="8" width="10.1" height="9.5" fill="#1e1e21"/><rect x="0.2" y="18.5" width="17" height="3" fill="#dedee3"/><rect x="5" y="23" width="10" height="21" fill="#a6a6ae"/><rect x="0.6" y="24" width="4" height="23.5" fill="#e4e4e8"/><rect x="8.3" y="50.8" width="8.4" height="8.4" fill="#e2e2e6"/><rect x="9.5" y="47.5" width="6" height="3.5" fill="#b8b8c0"/><polygon points="39,2 63.5,2 63.5,19 65.8,21 65.8,48.5 39,48.5" fill="#c6c6cd"/><rect x="39" y="2" width="24.5" height="5.2" fill="#b3b3bb"/><rect x="39" y="7" width="24.5" height="15" fill="#d6d6dc"/><rect x="42.8" y="8.2" width="13.8" height="12.3" fill="#8c8c94"/><rect x="43.8" y="9.2" width="11.8" height="10.3" fill="#1e1e21"/><rect x="60.5" y="21" width="5.3" height="27.5" fill="#acacb4"/><rect x="44" y="26" width="13" height="20" fill="#a9a9b1"/><rect x="57" y="25" width="3.8" height="23.5" fill="#dcdce0"/><circle cx="50.5" cy="33.9" r="3.2" fill="#ececef"/><circle cx="51.2" cy="34.8" r="1.5" fill="#8e8e96"/><rect x="45.1" y="48.5" width="9.2" height="10.7" fill="#e2e2e6"/><rect x="46.5" y="51" width="6.5" height="2.5" fill="#b0b0b8"/><polygon points="18.3,7 39,7 39,25.5 42,28.5 42,52.7 14.4,52.7 14.4,28.5 18.3,25.5" fill="#d9d9df"/><rect x="18.3" y="7" width="20.7" height="5.2" fill="#b9b9c1"/><rect x="21.7" y="13.2" width="13.4" height="12.3" fill="#8c8c94"/><rect x="22.7" y="14.2" width="11.4" height="10.3" fill="#1e1e21"/><rect x="14.4" y="27.5" width="27.6" height="3.5" fill="#e8e8ec"/><rect x="19.5" y="31.5" width="17.5" height="18" fill="#b4b4bc"/><rect x="15" y="32" width="4.2" height="20.7" fill="#eeeef2"/><rect x="37.3" y="32" width="4.2" height="20.7" fill="#eeeef2"/><circle cx="29.8" cy="40" r="3.6" fill="#85858d"/><circle cx="30.6" cy="39" r="1.9" fill="#dcdce0"/><rect x="19.5" y="49.2" width="17.5" height="3.5" fill="#e0e0e5"/></g>
<g transform="translate(302,543.5) scale(1.0)"><polygon points="3.3,0.5 26.7,0.5 26.7,21 16,21 16,47.7 0.2,47.7 0.2,20 3.3,18.5" fill="#c4c4cb"/><rect x="3.3" y="0.5" width="23.4" height="5.2" fill="#b3b3bb"/><rect x="3.3" y="5.5" width="23.4" height="14" fill="#d6d6dc"/><rect x="6.4" y="7" width="11.9" height="11.5" fill="#8c8c94"/><rect x="7.3" y="8" width="10.1" height="9.5" fill="#1e1e21"/><rect x="0.2" y="18.5" width="17" height="3" fill="#dedee3"/><rect x="5" y="23" width="10" height="21" fill="#a6a6ae"/><rect x="0.6" y="24" width="4" height="23.5" fill="#e4e4e8"/><rect x="8.3" y="50.8" width="8.4" height="8.4" fill="#e2e2e6"/><rect x="9.5" y="47.5" width="6" height="3.5" fill="#b8b8c0"/><polygon points="39,2 63.5,2 63.5,19 65.8,21 65.8,48.5 39,48.5" fill="#c6c6cd"/><rect x="39" y="2" width="24.5" height="5.2" fill="#b3b3bb"/><rect x="39" y="7" width="24.5" height="15" fill="#d6d6dc"/><rect x="42.8" y="8.2" width="13.8" height="12.3" fill="#8c8c94"/><rect x="43.8" y="9.2" width="11.8" height="10.3" fill="#1e1e21"/><rect x="60.5" y="21" width="5.3" height="27.5" fill="#acacb4"/><rect x="44" y="26" width="13" height="20" fill="#a9a9b1"/><rect x="57" y="25" width="3.8" height="23.5" fill="#dcdce0"/><circle cx="50.5" cy="33.9" r="3.2" fill="#ececef"/><circle cx="51.2" cy="34.8" r="1.5" fill="#8e8e96"/><rect x="45.1" y="48.5" width="9.2" height="10.7" fill="#e2e2e6"/><rect x="46.5" y="51" width="6.5" height="2.5" fill="#b0b0b8"/><polygon points="18.3,7 39,7 39,25.5 42,28.5 42,52.7 14.4,52.7 14.4,28.5 18.3,25.5" fill="#d9d9df"/><rect x="18.3" y="7" width="20.7" height="5.2" fill="#b9b9c1"/><rect x="21.7" y="13.2" width="13.4" height="12.3" fill="#8c8c94"/><rect x="22.7" y="14.2" width="11.4" height="10.3" fill="#1e1e21"/><rect x="14.4" y="27.5" width="27.6" height="3.5" fill="#e8e8ec"/><rect x="19.5" y="31.5" width="17.5" height="18" fill="#b4b4bc"/><rect x="15" y="32" width="4.2" height="20.7" fill="#eeeef2"/><rect x="37.3" y="32" width="4.2" height="20.7" fill="#eeeef2"/><circle cx="29.8" cy="40" r="3.6" fill="#85858d"/><circle cx="30.6" cy="39" r="1.9" fill="#dcdce0"/><rect x="19.5" y="49.2" width="17.5" height="3.5" fill="#e0e0e5"/></g>
<g transform="translate(386,544.5) scale(1.0)"><polygon points="3.3,0.5 26.7,0.5 26.7,21 16,21 16,47.7 0.2,47.7 0.2,20 3.3,18.5" fill="#c4c4cb"/><rect x="3.3" y="0.5" width="23.4" height="5.2" fill="#b3b3bb"/><rect x="3.3" y="5.5" width="23.4" height="14" fill="#d6d6dc"/><rect x="6.4" y="7" width="11.9" height="11.5" fill="#8c8c94"/><rect x="7.3" y="8" width="10.1" height="9.5" fill="#1e1e21"/><rect x="0.2" y="18.5" width="17" height="3" fill="#dedee3"/><rect x="5" y="23" width="10" height="21" fill="#a6a6ae"/><rect x="0.6" y="24" width="4" height="23.5" fill="#e4e4e8"/><rect x="8.3" y="50.8" width="8.4" height="8.4" fill="#e2e2e6"/><rect x="9.5" y="47.5" width="6" height="3.5" fill="#b8b8c0"/><polygon points="39,2 63.5,2 63.5,19 65.8,21 65.8,48.5 39,48.5" fill="#c6c6cd"/><rect x="39" y="2" width="24.5" height="5.2" fill="#b3b3bb"/><rect x="39" y="7" width="24.5" height="15" fill="#d6d6dc"/><rect x="42.8" y="8.2" width="13.8" height="12.3" fill="#8c8c94"/><rect x="43.8" y="9.2" width="11.8" height="10.3" fill="#1e1e21"/><rect x="60.5" y="21" width="5.3" height="27.5" fill="#acacb4"/><rect x="44" y="26" width="13" height="20" fill="#a9a9b1"/><rect x="57" y="25" width="3.8" height="23.5" fill="#dcdce0"/><circle cx="50.5" cy="33.9" r="3.2" fill="#ececef"/><circle cx="51.2" cy="34.8" r="1.5" fill="#8e8e96"/><rect x="45.1" y="48.5" width="9.2" height="10.7" fill="#e2e2e6"/><rect x="46.5" y="51" width="6.5" height="2.5" fill="#b0b0b8"/><polygon points="18.3,7 39,7 39,25.5 42,28.5 42,52.7 14.4,52.7 14.4,28.5 18.3,25.5" fill="#d9d9df"/><rect x="18.3" y="7" width="20.7" height="5.2" fill="#b9b9c1"/><rect x="21.7" y="13.2" width="13.4" height="12.3" fill="#8c8c94"/><rect x="22.7" y="14.2" width="11.4" height="10.3" fill="#1e1e21"/><rect x="14.4" y="27.5" width="27.6" height="3.5" fill="#e8e8ec"/><rect x="19.5" y="31.5" width="17.5" height="18" fill="#b4b4bc"/><rect x="15" y="32" width="4.2" height="20.7" fill="#eeeef2"/><rect x="37.3" y="32" width="4.2" height="20.7" fill="#eeeef2"/><circle cx="29.8" cy="40" r="3.6" fill="#85858d"/><circle cx="30.6" cy="39" r="1.9" fill="#dcdce0"/><rect x="19.5" y="49.2" width="17.5" height="3.5" fill="#e0e0e5"/></g>
<g transform="translate(650,543.5) scale(1.0)"><polygon points="3.3,0.5 26.7,0.5 26.7,21 16,21 16,47.7 0.2,47.7 0.2,20 3.3,18.5" fill="#c4c4cb"/><rect x="3.3" y="0.5" width="23.4" height="5.2" fill="#b3b3bb"/><rect x="3.3" y="5.5" width="23.4" height="14" fill="#d6d6dc"/><rect x="6.4" y="7" width="11.9" height="11.5" fill="#8c8c94"/><rect x="7.3" y="8" width="10.1" height="9.5" fill="#1e1e21"/><rect x="0.2" y="18.5" width="17" height="3" fill="#dedee3"/><rect x="5" y="23" width="10" height="21" fill="#a6a6ae"/><rect x="0.6" y="24" width="4" height="23.5" fill="#e4e4e8"/><rect x="8.3" y="50.8" width="8.4" height="8.4" fill="#e2e2e6"/><rect x="9.5" y="47.5" width="6" height="3.5" fill="#b8b8c0"/><polygon points="39,2 63.5,2 63.5,19 65.8,21 65.8,48.5 39,48.5" fill="#c6c6cd"/><rect x="39" y="2" width="24.5" height="5.2" fill="#b3b3bb"/><rect x="39" y="7" width="24.5" height="15" fill="#d6d6dc"/><rect x="42.8" y="8.2" width="13.8" height="12.3" fill="#8c8c94"/><rect x="43.8" y="9.2" width="11.8" height="10.3" fill="#1e1e21"/><rect x="60.5" y="21" width="5.3" height="27.5" fill="#acacb4"/><rect x="44" y="26" width="13" height="20" fill="#a9a9b1"/><rect x="57" y="25" width="3.8" height="23.5" fill="#dcdce0"/><circle cx="50.5" cy="33.9" r="3.2" fill="#ececef"/><circle cx="51.2" cy="34.8" r="1.5" fill="#8e8e96"/><rect x="45.1" y="48.5" width="9.2" height="10.7" fill="#e2e2e6"/><rect x="46.5" y="51" width="6.5" height="2.5" fill="#b0b0b8"/><polygon points="18.3,7 39,7 39,25.5 42,28.5 42,52.7 14.4,52.7 14.4,28.5 18.3,25.5" fill="#d9d9df"/><rect x="18.3" y="7" width="20.7" height="5.2" fill="#b9b9c1"/><rect x="21.7" y="13.2" width="13.4" height="12.3" fill="#8c8c94"/><rect x="22.7" y="14.2" width="11.4" height="10.3" fill="#1e1e21"/><rect x="14.4" y="27.5" width="27.6" height="3.5" fill="#e8e8ec"/><rect x="19.5" y="31.5" width="17.5" height="18" fill="#b4b4bc"/><rect x="15" y="32" width="4.2" height="20.7" fill="#eeeef2"/><rect x="37.3" y="32" width="4.2" height="20.7" fill="#eeeef2"/><circle cx="29.8" cy="40" r="3.6" fill="#85858d"/><circle cx="30.6" cy="39" r="1.9" fill="#dcdce0"/><rect x="19.5" y="49.2" width="17.5" height="3.5" fill="#e0e0e5"/></g>
<g transform="translate(731.5,543.5) scale(1.0)"><polygon points="3.3,0.5 26.7,0.5 26.7,21 16,21 16,47.7 0.2,47.7 0.2,20 3.3,18.5" fill="#c4c4cb"/><rect x="3.3" y="0.5" width="23.4" height="5.2" fill="#b3b3bb"/><rect x="3.3" y="5.5" width="23.4" height="14" fill="#d6d6dc"/><rect x="6.4" y="7" width="11.9" height="11.5" fill="#8c8c94"/><rect x="7.3" y="8" width="10.1" height="9.5" fill="#1e1e21"/><rect x="0.2" y="18.5" width="17" height="3" fill="#dedee3"/><rect x="5" y="23" width="10" height="21" fill="#a6a6ae"/><rect x="0.6" y="24" width="4" height="23.5" fill="#e4e4e8"/><rect x="8.3" y="50.8" width="8.4" height="8.4" fill="#e2e2e6"/><rect x="9.5" y="47.5" width="6" height="3.5" fill="#b8b8c0"/><polygon points="39,2 63.5,2 63.5,19 65.8,21 65.8,48.5 39,48.5" fill="#c6c6cd"/><rect x="39" y="2" width="24.5" height="5.2" fill="#b3b3bb"/><rect x="39" y="7" width="24.5" height="15" fill="#d6d6dc"/><rect x="42.8" y="8.2" width="13.8" height="12.3" fill="#8c8c94"/><rect x="43.8" y="9.2" width="11.8" height="10.3" fill="#1e1e21"/><rect x="60.5" y="21" width="5.3" height="27.5" fill="#acacb4"/><rect x="44" y="26" width="13" height="20" fill="#a9a9b1"/><rect x="57" y="25" width="3.8" height="23.5" fill="#dcdce0"/><circle cx="50.5" cy="33.9" r="3.2" fill="#ececef"/><circle cx="51.2" cy="34.8" r="1.5" fill="#8e8e96"/><rect x="45.1" y="48.5" width="9.2" height="10.7" fill="#e2e2e6"/><rect x="46.5" y="51" width="6.5" height="2.5" fill="#b0b0b8"/><polygon points="18.3,7 39,7 39,25.5 42,28.5 42,52.7 14.4,52.7 14.4,28.5 18.3,25.5" fill="#d9d9df"/><rect x="18.3" y="7" width="20.7" height="5.2" fill="#b9b9c1"/><rect x="21.7" y="13.2" width="13.4" height="12.3" fill="#8c8c94"/><rect x="22.7" y="14.2" width="11.4" height="10.3" fill="#1e1e21"/><rect x="14.4" y="27.5" width="27.6" height="3.5" fill="#e8e8ec"/><rect x="19.5" y="31.5" width="17.5" height="18" fill="#b4b4bc"/><rect x="15" y="32" width="4.2" height="20.7" fill="#eeeef2"/><rect x="37.3" y="32" width="4.2" height="20.7" fill="#eeeef2"/><circle cx="29.8" cy="40" r="3.6" fill="#85858d"/><circle cx="30.6" cy="39" r="1.9" fill="#dcdce0"/><rect x="19.5" y="49.2" width="17.5" height="3.5" fill="#e0e0e5"/></g>
<g transform="translate(820,543.5) scale(1.0)"><polygon points="3.3,0.5 26.7,0.5 26.7,21 16,21 16,47.7 0.2,47.7 0.2,20 3.3,18.5" fill="#c4c4cb"/><rect x="3.3" y="0.5" width="23.4" height="5.2" fill="#b3b3bb"/><rect x="3.3" y="5.5" width="23.4" height="14" fill="#d6d6dc"/><rect x="6.4" y="7" width="11.9" height="11.5" fill="#8c8c94"/><rect x="7.3" y="8" width="10.1" height="9.5" fill="#1e1e21"/><rect x="0.2" y="18.5" width="17" height="3" fill="#dedee3"/><rect x="5" y="23" width="10" height="21" fill="#a6a6ae"/><rect x="0.6" y="24" width="4" height="23.5" fill="#e4e4e8"/><rect x="8.3" y="50.8" width="8.4" height="8.4" fill="#e2e2e6"/><rect x="9.5" y="47.5" width="6" height="3.5" fill="#b8b8c0"/><polygon points="39,2 63.5,2 63.5,19 65.8,21 65.8,48.5 39,48.5" fill="#c6c6cd"/><rect x="39" y="2" width="24.5" height="5.2" fill="#b3b3bb"/><rect x="39" y="7" width="24.5" height="15" fill="#d6d6dc"/><rect x="42.8" y="8.2" width="13.8" height="12.3" fill="#8c8c94"/><rect x="43.8" y="9.2" width="11.8" height="10.3" fill="#1e1e21"/><rect x="60.5" y="21" width="5.3" height="27.5" fill="#acacb4"/><rect x="44" y="26" width="13" height="20" fill="#a9a9b1"/><rect x="57" y="25" width="3.8" height="23.5" fill="#dcdce0"/><circle cx="50.5" cy="33.9" r="3.2" fill="#ececef"/><circle cx="51.2" cy="34.8" r="1.5" fill="#8e8e96"/><rect x="45.1" y="48.5" width="9.2" height="10.7" fill="#e2e2e6"/><rect x="46.5" y="51" width="6.5" height="2.5" fill="#b0b0b8"/><polygon points="18.3,7 39,7 39,25.5 42,28.5 42,52.7 14.4,52.7 14.4,28.5 18.3,25.5" fill="#d9d9df"/><rect x="18.3" y="7" width="20.7" height="5.2" fill="#b9b9c1"/><rect x="21.7" y="13.2" width="13.4" height="12.3" fill="#8c8c94"/><rect x="22.7" y="14.2" width="11.4" height="10.3" fill="#1e1e21"/><rect x="14.4" y="27.5" width="27.6" height="3.5" fill="#e8e8ec"/><rect x="19.5" y="31.5" width="17.5" height="18" fill="#b4b4bc"/><rect x="15" y="32" width="4.2" height="20.7" fill="#eeeef2"/><rect x="37.3" y="32" width="4.2" height="20.7" fill="#eeeef2"/><circle cx="29.8" cy="40" r="3.6" fill="#85858d"/><circle cx="30.6" cy="39" r="1.9" fill="#dcdce0"/><rect x="19.5" y="49.2" width="17.5" height="3.5" fill="#e0e0e5"/></g>
<g transform="translate(35.5,607.5) scale(1.0)"><polygon points="3.3,0.5 26.7,0.5 26.7,21 16,21 16,47.7 0.2,47.7 0.2,20 3.3,18.5" fill="#c4c4cb"/><rect x="3.3" y="0.5" width="23.4" height="5.2" fill="#b3b3bb"/><rect x="3.3" y="5.5" width="23.4" height="14" fill="#d6d6dc"/><rect x="6.4" y="7" width="11.9" height="11.5" fill="#8c8c94"/><rect x="7.3" y="8" width="10.1" height="9.5" fill="#1e1e21"/><rect x="0.2" y="18.5" width="17" height="3" fill="#dedee3"/><rect x="5" y="23" width="10" height="21" fill="#a6a6ae"/><rect x="0.6" y="24" width="4" height="23.5" fill="#e4e4e8"/><rect x="8.3" y="50.8" width="8.4" height="8.4" fill="#e2e2e6"/><rect x="9.5" y="47.5" width="6" height="3.5" fill="#b8b8c0"/><polygon points="39,2 63.5,2 63.5,19 65.8,21 65.8,48.5 39,48.5" fill="#c6c6cd"/><rect x="39" y="2" width="24.5" height="5.2" fill="#b3b3bb"/><rect x="39" y="7" width="24.5" height="15" fill="#d6d6dc"/><rect x="42.8" y="8.2" width="13.8" height="12.3" fill="#8c8c94"/><rect x="43.8" y="9.2" width="11.8" height="10.3" fill="#1e1e21"/><rect x="60.5" y="21" width="5.3" height="27.5" fill="#acacb4"/><rect x="44" y="26" width="13" height="20" fill="#a9a9b1"/><rect x="57" y="25" width="3.8" height="23.5" fill="#dcdce0"/><circle cx="50.5" cy="33.9" r="3.2" fill="#ececef"/><circle cx="51.2" cy="34.8" r="1.5" fill="#8e8e96"/><rect x="45.1" y="48.5" width="9.2" height="10.7" fill="#e2e2e6"/><rect x="46.5" y="51" width="6.5" height="2.5" fill="#b0b0b8"/><polygon points="18.3,7 39,7 39,25.5 42,28.5 42,52.7 14.4,52.7 14.4,28.5 18.3,25.5" fill="#d9d9df"/><rect x="18.3" y="7" width="20.7" height="5.2" fill="#b9b9c1"/><rect x="21.7" y="13.2" width="13.4" height="12.3" fill="#8c8c94"/><rect x="22.7" y="14.2" width="11.4" height="10.3" fill="#1e1e21"/><rect x="14.4" y="27.5" width="27.6" height="3.5" fill="#e8e8ec"/><rect x="19.5" y="31.5" width="17.5" height="18" fill="#b4b4bc"/><rect x="15" y="32" width="4.2" height="20.7" fill="#eeeef2"/><rect x="37.3" y="32" width="4.2" height="20.7" fill="#eeeef2"/><circle cx="29.8" cy="40" r="3.6" fill="#85858d"/><circle cx="30.6" cy="39" r="1.9" fill="#dcdce0"/><rect x="19.5" y="49.2" width="17.5" height="3.5" fill="#e0e0e5"/></g>
<g transform="translate(947,605) scale(1.0)"><polygon points="3.3,0.5 26.7,0.5 26.7,21 16,21 16,47.7 0.2,47.7 0.2,20 3.3,18.5" fill="#c4c4cb"/><rect x="3.3" y="0.5" width="23.4" height="5.2" fill="#b3b3bb"/><rect x="3.3" y="5.5" width="23.4" height="14" fill="#d6d6dc"/><rect x="6.4" y="7" width="11.9" height="11.5" fill="#8c8c94"/><rect x="7.3" y="8" width="10.1" height="9.5" fill="#1e1e21"/><rect x="0.2" y="18.5" width="17" height="3" fill="#dedee3"/><rect x="5" y="23" width="10" height="21" fill="#a6a6ae"/><rect x="0.6" y="24" width="4" height="23.5" fill="#e4e4e8"/><rect x="8.3" y="50.8" width="8.4" height="8.4" fill="#e2e2e6"/><rect x="9.5" y="47.5" width="6" height="3.5" fill="#b8b8c0"/><polygon points="39,2 63.5,2 63.5,19 65.8,21 65.8,48.5 39,48.5" fill="#c6c6cd"/><rect x="39" y="2" width="24.5" height="5.2" fill="#b3b3bb"/><rect x="39" y="7" width="24.5" height="15" fill="#d6d6dc"/><rect x="42.8" y="8.2" width="13.8" height="12.3" fill="#8c8c94"/><rect x="43.8" y="9.2" width="11.8" height="10.3" fill="#1e1e21"/><rect x="60.5" y="21" width="5.3" height="27.5" fill="#acacb4"/><rect x="44" y="26" width="13" height="20" fill="#a9a9b1"/><rect x="57" y="25" width="3.8" height="23.5" fill="#dcdce0"/><circle cx="50.5" cy="33.9" r="3.2" fill="#ececef"/><circle cx="51.2" cy="34.8" r="1.5" fill="#8e8e96"/><rect x="45.1" y="48.5" width="9.2" height="10.7" fill="#e2e2e6"/><rect x="46.5" y="51" width="6.5" height="2.5" fill="#b0b0b8"/><polygon points="18.3,7 39,7 39,25.5 42,28.5 42,52.7 14.4,52.7 14.4,28.5 18.3,25.5" fill="#d9d9df"/><rect x="18.3" y="7" width="20.7" height="5.2" fill="#b9b9c1"/><rect x="21.7" y="13.2" width="13.4" height="12.3" fill="#8c8c94"/><rect x="22.7" y="14.2" width="11.4" height="10.3" fill="#1e1e21"/><rect x="14.4" y="27.5" width="27.6" height="3.5" fill="#e8e8ec"/><rect x="19.5" y="31.5" width="17.5" height="18" fill="#b4b4bc"/><rect x="15" y="32" width="4.2" height="20.7" fill="#eeeef2"/><rect x="37.3" y="32" width="4.2" height="20.7" fill="#eeeef2"/><circle cx="29.8" cy="40" r="3.6" fill="#85858d"/><circle cx="30.6" cy="39" r="1.9" fill="#dcdce0"/><rect x="19.5" y="49.2" width="17.5" height="3.5" fill="#e0e0e5"/></g>
<path d="M25.9,649L31.9,641.5L34.4,645M25.9,655L31.9,647.5L34.4,651" fill="none" stroke="#0a0a0a" stroke-width="1.8"/>
<line x1="31.9" y1="600" x2="31.9" y2="672" stroke="#0a0a0a" stroke-width="2.25"/>
<path d="M1020.6,649L1014.6,641.5L1012.1,645M1020.6,655L1014.6,647.5L1012.1,651" fill="none" stroke="#0a0a0a" stroke-width="1.8"/>
<line x1="1014.6" y1="600" x2="1014.6" y2="672" stroke="#0a0a0a" stroke-width="2.25"/>
</svg></body></html>
